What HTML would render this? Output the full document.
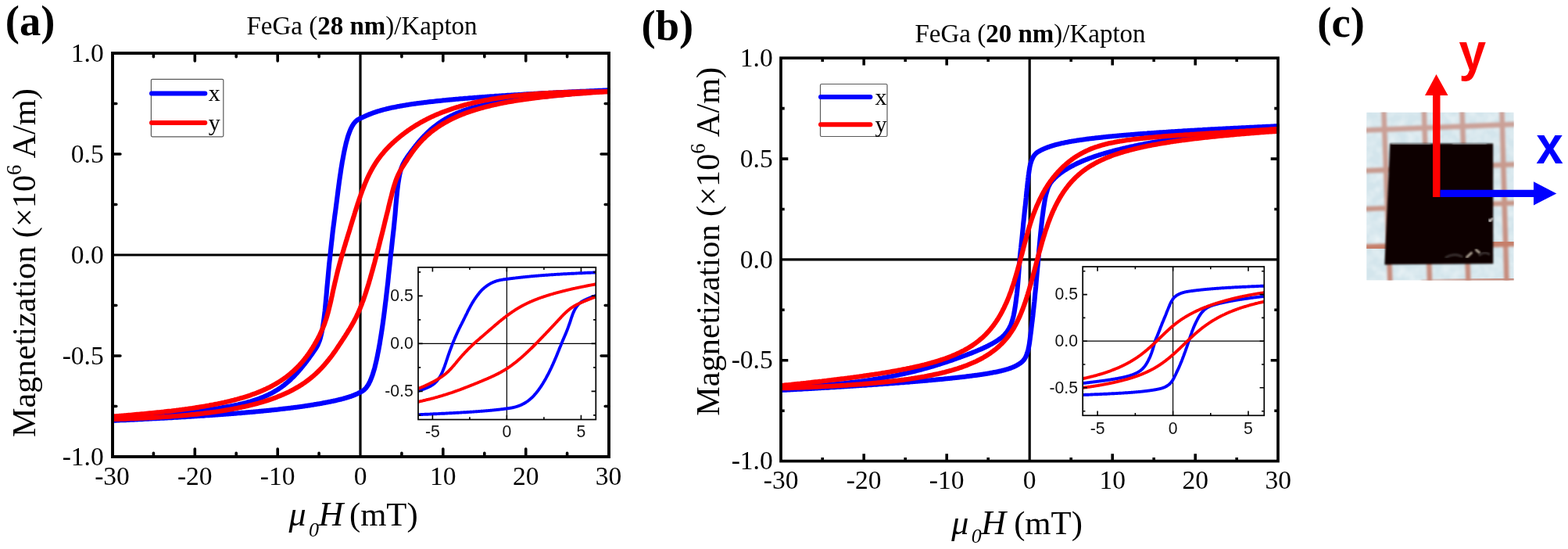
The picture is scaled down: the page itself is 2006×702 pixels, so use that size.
<!DOCTYPE html>
<html lang="en">
<head>
<meta charset="utf-8">
<title>FeGa/Kapton hysteresis loops</title>
<style>
html,body{margin:0;padding:0;background:#fff;}
body{width:2006px;height:702px;overflow:hidden;}
svg{display:block;}
text{white-space:pre;}
</style>
</head>
<body>
<svg width="2006" height="702" viewBox="0 0 2006 702">
<rect width="2006" height="702" fill="#fff"/>
<g id="panel-a">
<clipPath id="clipa"><rect x="144" y="68" width="637" height="516"/></clipPath>
<path d="M144,326 H779 M461,68 V584" stroke="#000" stroke-width="3.2" fill="none"/>
<g clip-path="url(#clipa)" fill="none" stroke-linejoin="round" stroke-linecap="round" stroke-width="6.1">
<path d="M143.5,536.4 L145.7,536.2 L147.8,536.0 L150.0,535.8 L152.1,535.6 L154.2,535.4 L156.4,535.2 L158.5,535.0 L160.6,534.8 L162.7,534.5 L164.8,534.3 L166.9,534.1 L169.0,533.9 L171.1,533.7 L173.2,533.5 L175.3,533.3 L177.3,533.1 L179.4,532.9 L181.4,532.7 L183.5,532.5 L185.5,532.3 L187.6,532.2 L189.6,532.0 L191.6,531.8 L193.7,531.6 L195.7,531.4 L197.7,531.2 L199.7,531.0 L201.7,530.8 L203.7,530.6 L205.6,530.4 L207.6,530.2 L209.6,530.0 L211.5,529.8 L213.5,529.7 L215.4,529.5 L217.4,529.3 L219.3,529.1 L221.3,528.9 L223.2,528.7 L225.1,528.5 L227.0,528.3 L228.9,528.1 L230.8,527.9 L232.7,527.7 L234.6,527.5 L236.5,527.3 L238.3,527.1 L240.2,526.9 L242.1,526.7 L243.9,526.5 L245.8,526.3 L247.6,526.1 L249.4,525.9 L251.3,525.7 L253.1,525.5 L254.9,525.3 L256.7,525.1 L258.5,524.8 L260.3,524.6 L262.1,524.4 L263.9,524.2 L265.6,523.9 L267.4,523.7 L269.2,523.5 L270.9,523.2 L272.7,523.0 L274.4,522.7 L276.2,522.5 L277.9,522.2 L279.6,522.0 L281.3,521.7 L283.0,521.4 L284.7,521.1 L286.4,520.9 L288.1,520.6 L289.8,520.3 L291.5,520.0 L293.1,519.7 L294.8,519.4 L296.4,519.1 L298.1,518.7 L299.7,518.4 L301.4,518.1 L303.0,517.7 L304.6,517.4 L306.2,517.0 L307.8,516.6 L309.4,516.3 L311.0,515.9 L312.6,515.5 L314.2,515.1 L315.8,514.7 L317.3,514.2 L318.9,513.8 L320.4,513.4 L322.0,512.9 L323.5,512.4 L325.0,511.9 L326.6,511.4 L328.1,510.9 L329.6,510.4 L331.1,509.9 L332.6,509.3 L334.1,508.7 L335.5,508.2 L337.0,507.6 L338.5,506.9 L339.9,506.3 L341.4,505.7 L342.8,505.0 L344.3,504.3 L345.7,503.6 L347.1,502.9 L348.5,502.1 L349.9,501.3 L351.3,500.5 L352.7,499.7 L354.1,498.9 L355.5,498.0 L356.9,497.1 L358.2,496.2 L359.6,495.3 L360.9,494.3 L362.3,493.3 L363.6,492.3 L364.9,491.2 L366.3,490.1 L367.6,489.0 L368.9,487.9 L370.2,486.7 L371.5,485.6 L372.7,484.3 L374.0,483.1 L375.3,481.9 L376.5,480.6 L377.8,479.3 L379.0,478.0 L380.3,476.6 L381.5,475.2 L382.7,473.9 L383.9,472.4 L385.1,471.0 L386.3,469.6 L387.5,468.1 L388.7,466.6 L389.9,465.2 L391.0,463.7 L392.2,462.1 L393.3,460.6 L394.5,459.1 L395.6,457.6 L396.7,456.0 L397.8,454.5 L399.0,452.9 L400.1,451.3 L401.1,449.8 L402.2,448.2 L403.3,446.7 L404.4,445.0 L405.4,443.2 L406.5,441.2 L407.5,438.9 L408.6,436.2 L409.6,433.1 L410.6,429.3 L411.6,425.0 L412.6,419.8 L413.6,413.6 L414.6,406.5 L415.6,398.1 L416.5,388.5 L417.5,378.0 L418.4,367.3 L419.4,356.7 L420.3,346.7 L421.2,337.2 L422.2,328.1 L423.1,319.5 L424.0,311.4 L424.9,303.6 L425.7,296.2 L426.6,289.2 L427.5,282.4 L428.3,275.9 L429.2,269.6 L430.0,263.3 L430.8,257.1 L431.6,250.8 L432.4,244.5 L433.2,238.4 L434.0,232.4 L434.8,226.8 L435.6,221.5 L436.3,216.5 L437.1,211.7 L437.8,207.3 L438.6,203.1 L439.3,199.2 L440.0,195.5 L440.7,192.1 L441.4,188.9 L442.1,185.9 L442.7,183.1 L443.4,180.5 L444.1,178.1 L444.7,175.9 L445.3,173.8 L446.0,171.9 L446.6,170.2 L447.2,168.6 L447.8,167.1 L448.3,165.8 L448.9,164.5 L449.5,163.4 L450.0,162.3 L450.5,161.3 L451.1,160.4 L451.6,159.5 L452.1,158.8 L452.6,158.1 L453.1,157.4 L453.5,156.8 L454.0,156.3 L454.4,155.8 L454.9,155.4 L455.3,155.0 L455.7,154.6 L456.1,154.3 L456.5,154.0 L456.8,153.7 L457.2,153.4 L457.5,153.2 L457.9,153.0 L458.2,152.8 L458.5,152.6 L458.8,152.5 L459.0,152.3 L459.3,152.2 L459.5,152.1 L459.8,151.9 L460.0,151.8 L460.2,151.7 L460.4,151.7 L460.5,151.6 L460.7,151.5 L460.8,151.5 L460.9,151.4 L460.9,151.4 L461.0,151.4 L461.0,151.3 L461.1,151.3 L461.1,151.3 L461.2,151.2 L461.3,151.2 L461.5,151.1 L461.6,151.0 L461.8,151.0 L462.0,150.9 L462.2,150.8 L462.5,150.7 L462.7,150.5 L463.0,150.4 L463.2,150.3 L463.5,150.2 L463.8,150.0 L464.1,149.9 L464.5,149.7 L464.8,149.6 L465.2,149.4 L465.5,149.2 L465.9,149.1 L466.3,148.9 L466.7,148.7 L467.1,148.5 L467.6,148.3 L468.0,148.1 L468.5,147.9 L468.9,147.7 L469.4,147.5 L469.9,147.3 L470.4,147.1 L470.9,146.9 L471.5,146.6 L472.0,146.4 L472.5,146.2 L473.1,146.0 L473.7,145.8 L474.2,145.5 L474.8,145.3 L475.4,145.1 L476.0,144.9 L476.7,144.6 L477.3,144.4 L477.9,144.2 L478.6,143.9 L479.3,143.7 L479.9,143.5 L480.6,143.2 L481.3,143.0 L482.0,142.8 L482.7,142.6 L483.4,142.3 L484.2,142.1 L484.9,141.9 L485.7,141.7 L486.4,141.4 L487.2,141.2 L488.0,141.0 L488.8,140.8 L489.6,140.6 L490.4,140.3 L491.2,140.1 L492.0,139.9 L492.8,139.7 L493.7,139.5 L494.5,139.3 L495.4,139.1 L496.3,138.9 L497.1,138.6 L498.0,138.4 L498.9,138.2 L499.8,138.0 L500.8,137.8 L501.7,137.6 L502.6,137.4 L503.6,137.2 L504.5,137.1 L505.5,136.9 L506.4,136.7 L507.4,136.5 L508.4,136.3 L509.4,136.1 L510.4,135.9 L511.4,135.7 L512.4,135.5 L513.4,135.4 L514.5,135.2 L515.5,135.0 L516.6,134.8 L517.6,134.7 L518.7,134.5 L519.8,134.3 L520.9,134.1 L521.9,134.0 L523.0,133.8 L524.2,133.6 L525.3,133.4 L526.4,133.3 L527.5,133.1 L528.7,132.9 L529.8,132.8 L531.0,132.6 L532.1,132.5 L533.3,132.3 L534.5,132.1 L535.7,132.0 L536.9,131.8 L538.1,131.7 L539.3,131.5 L540.5,131.4 L541.7,131.2 L543.0,131.0 L544.2,130.9 L545.5,130.7 L546.7,130.6 L548.0,130.4 L549.3,130.3 L550.5,130.1 L551.8,130.0 L553.1,129.9 L554.4,129.7 L555.7,129.6 L557.1,129.4 L558.4,129.3 L559.7,129.1 L561.1,129.0 L562.4,128.9 L563.8,128.7 L565.1,128.6 L566.5,128.4 L567.9,128.3 L569.3,128.2 L570.7,128.0 L572.1,127.9 L573.5,127.8 L574.9,127.6 L576.3,127.5 L577.7,127.4 L579.2,127.2 L580.6,127.1 L582.1,127.0 L583.5,126.8 L585.0,126.7 L586.5,126.6 L587.9,126.4 L589.4,126.3 L590.9,126.2 L592.4,126.1 L593.9,125.9 L595.4,125.8 L597.0,125.7 L598.5,125.6 L600.0,125.4 L601.6,125.3 L603.1,125.2 L604.7,125.1 L606.2,124.9 L607.8,124.8 L609.4,124.7 L611.0,124.6 L612.6,124.5 L614.2,124.3 L615.8,124.2 L617.4,124.1 L619.0,124.0 L620.6,123.9 L622.3,123.7 L623.9,123.6 L625.6,123.5 L627.2,123.4 L628.9,123.3 L630.5,123.2 L632.2,123.1 L633.9,122.9 L635.6,122.8 L637.3,122.7 L639.0,122.6 L640.7,122.5 L642.4,122.4 L644.1,122.3 L645.8,122.2 L647.6,122.0 L649.3,121.9 L651.1,121.8 L652.8,121.7 L654.6,121.6 L656.4,121.5 L658.1,121.4 L659.9,121.3 L661.7,121.2 L663.5,121.1 L665.3,121.0 L667.1,120.9 L668.9,120.7 L670.7,120.6 L672.6,120.5 L674.4,120.4 L676.2,120.3 L678.1,120.2 L679.9,120.1 L681.8,120.0 L683.7,119.9 L685.5,119.8 L687.4,119.7 L689.3,119.6 L691.2,119.5 L693.1,119.4 L695.0,119.3 L696.9,119.2 L698.8,119.1 L700.7,119.0 L702.7,118.9 L704.6,118.8 L706.6,118.7 L708.5,118.6 L710.5,118.5 L712.4,118.4 L714.4,118.3 L716.4,118.2 L718.3,118.1 L720.3,118.0 L722.3,117.9 L724.3,117.8 L726.3,117.7 L728.3,117.6 L730.4,117.5 L732.4,117.4 L734.4,117.3 L736.5,117.2 L738.5,117.1 L740.6,117.0 L742.6,116.9 L744.7,116.8 L746.7,116.8 L748.8,116.7 L750.9,116.6 L753.0,116.5 L755.1,116.4 L757.2,116.3 L759.3,116.2 L761.4,116.1 L763.5,116.0 L765.6,115.9 L767.8,115.8 L769.9,115.7 L772.0,115.6 L774.2,115.5 L776.3,115.5 L778.5,115.4" stroke="#0000ff"/>
<path d="M143.5,537.8 L145.7,537.7 L147.8,537.6 L150.0,537.5 L152.1,537.4 L154.2,537.3 L156.4,537.2 L158.5,537.1 L160.6,537.1 L162.7,537.0 L164.8,536.9 L166.9,536.8 L169.0,536.7 L171.1,536.6 L173.2,536.5 L175.3,536.4 L177.3,536.3 L179.4,536.2 L181.4,536.1 L183.5,535.9 L185.5,535.8 L187.6,535.7 L189.6,535.6 L191.6,535.5 L193.7,535.4 L195.7,535.3 L197.7,535.2 L199.7,535.1 L201.7,535.0 L203.7,534.9 L205.6,534.8 L207.6,534.7 L209.6,534.6 L211.5,534.5 L213.5,534.4 L215.4,534.3 L217.4,534.2 L219.3,534.1 L221.3,533.9 L223.2,533.8 L225.1,533.7 L227.0,533.6 L228.9,533.5 L230.8,533.4 L232.7,533.3 L234.6,533.2 L236.5,533.1 L238.3,532.9 L240.2,532.8 L242.1,532.7 L243.9,532.6 L245.8,532.5 L247.6,532.4 L249.4,532.3 L251.3,532.1 L253.1,532.0 L254.9,531.9 L256.7,531.8 L258.5,531.7 L260.3,531.6 L262.1,531.4 L263.9,531.3 L265.6,531.2 L267.4,531.1 L269.2,531.0 L270.9,530.9 L272.7,530.7 L274.4,530.6 L276.2,530.5 L277.9,530.4 L279.6,530.2 L281.3,530.1 L283.0,530.0 L284.7,529.9 L286.4,529.7 L288.1,529.6 L289.8,529.5 L291.5,529.4 L293.1,529.2 L294.8,529.1 L296.4,529.0 L298.1,528.9 L299.7,528.7 L301.4,528.6 L303.0,528.5 L304.6,528.3 L306.2,528.2 L307.8,528.1 L309.4,527.9 L311.0,527.8 L312.6,527.7 L314.2,527.5 L315.8,527.4 L317.3,527.3 L318.9,527.1 L320.4,527.0 L322.0,526.9 L323.5,526.7 L325.0,526.6 L326.6,526.5 L328.1,526.3 L329.6,526.2 L331.1,526.0 L332.6,525.9 L334.1,525.8 L335.5,525.6 L337.0,525.5 L338.5,525.3 L339.9,525.2 L341.4,525.0 L342.8,524.9 L344.3,524.7 L345.7,524.6 L347.1,524.5 L348.5,524.3 L349.9,524.2 L351.3,524.0 L352.7,523.9 L354.1,523.7 L355.5,523.6 L356.9,523.4 L358.2,523.3 L359.6,523.1 L360.9,522.9 L362.3,522.8 L363.6,522.6 L364.9,522.5 L366.3,522.3 L367.6,522.2 L368.9,522.0 L370.2,521.9 L371.5,521.7 L372.7,521.5 L374.0,521.4 L375.3,521.2 L376.5,521.0 L377.8,520.9 L379.0,520.7 L380.3,520.6 L381.5,520.4 L382.7,520.2 L383.9,520.1 L385.1,519.9 L386.3,519.7 L387.5,519.6 L388.7,519.4 L389.9,519.2 L391.0,519.0 L392.2,518.9 L393.3,518.7 L394.5,518.5 L395.6,518.4 L396.7,518.2 L397.8,518.0 L399.0,517.8 L400.1,517.7 L401.1,517.5 L402.2,517.3 L403.3,517.1 L404.4,517.0 L405.4,516.8 L406.5,516.6 L407.5,516.4 L408.6,516.2 L409.6,516.1 L410.6,515.9 L411.6,515.7 L412.6,515.5 L413.6,515.3 L414.6,515.1 L415.6,515.0 L416.5,514.8 L417.5,514.6 L418.4,514.4 L419.4,514.2 L420.3,514.0 L421.2,513.8 L422.2,513.7 L423.1,513.5 L424.0,513.3 L424.9,513.1 L425.7,512.9 L426.6,512.7 L427.5,512.5 L428.3,512.4 L429.2,512.2 L430.0,512.0 L430.8,511.8 L431.6,511.6 L432.4,511.4 L433.2,511.2 L434.0,511.0 L434.8,510.8 L435.6,510.7 L436.3,510.5 L437.1,510.3 L437.8,510.1 L438.6,509.9 L439.3,509.7 L440.0,509.5 L440.7,509.3 L441.4,509.1 L442.1,508.9 L442.7,508.7 L443.4,508.5 L444.1,508.3 L444.7,508.1 L445.3,507.9 L446.0,507.7 L446.6,507.5 L447.2,507.3 L447.8,507.1 L448.3,507.0 L448.9,506.8 L449.5,506.6 L450.0,506.4 L450.5,506.2 L451.1,506.0 L451.6,505.8 L452.1,505.6 L452.6,505.4 L453.1,505.2 L453.5,505.0 L454.0,504.8 L454.4,504.6 L454.9,504.5 L455.3,504.3 L455.7,504.1 L456.1,503.9 L456.5,503.7 L456.8,503.6 L457.2,503.4 L457.5,503.3 L457.9,503.1 L458.2,503.0 L458.5,502.8 L458.8,502.7 L459.0,502.5 L459.3,502.4 L459.5,502.3 L459.8,502.2 L460.0,502.1 L460.2,502.0 L460.4,501.9 L460.5,501.8 L460.7,501.7 L460.8,501.7 L460.9,501.6 L460.9,501.6 L461.0,501.6 L461.0,501.6 L461.1,501.5 L461.1,501.5 L461.2,501.4 L461.3,501.4 L461.5,501.3 L461.6,501.2 L461.8,501.1 L462.0,501.0 L462.2,500.9 L462.5,500.8 L462.7,500.7 L463.0,500.5 L463.2,500.3 L463.5,500.2 L463.8,500.0 L464.1,499.8 L464.5,499.5 L464.8,499.3 L465.2,499.0 L465.5,498.7 L465.9,498.4 L466.3,498.0 L466.7,497.7 L467.1,497.2 L467.6,496.8 L468.0,496.3 L468.5,495.7 L468.9,495.1 L469.4,494.5 L469.9,493.8 L470.4,493.0 L470.9,492.2 L471.5,491.3 L472.0,490.3 L472.5,489.2 L473.1,488.1 L473.7,486.9 L474.2,485.6 L474.8,484.2 L475.4,482.6 L476.0,481.0 L476.7,479.2 L477.3,477.2 L477.9,475.2 L478.6,472.9 L479.3,470.5 L479.9,467.9 L480.6,465.1 L481.3,462.1 L482.0,459.0 L482.7,455.6 L483.4,452.0 L484.2,448.2 L484.9,444.1 L485.7,439.9 L486.4,435.4 L487.2,430.6 L488.0,425.6 L488.8,420.3 L489.6,414.8 L490.4,409.0 L491.2,402.9 L492.0,396.6 L492.8,389.9 L493.7,383.0 L494.5,375.8 L495.4,368.2 L496.3,360.4 L497.1,352.2 L498.0,343.9 L498.9,335.4 L499.8,326.9 L500.8,318.5 L501.7,310.2 L502.6,302.0 L503.6,293.4 L504.5,284.3 L505.5,274.2 L506.4,263.1 L507.4,252.1 L508.4,242.2 L509.4,234.2 L510.4,227.9 L511.4,222.7 L512.4,218.5 L513.4,215.1 L514.5,212.4 L515.5,210.0 L516.6,208.0 L517.6,206.1 L518.7,204.3 L519.8,202.7 L520.9,201.0 L521.9,199.5 L523.0,197.9 L524.2,196.4 L525.3,194.9 L526.4,193.4 L527.5,191.9 L528.7,190.4 L529.8,188.9 L531.0,187.4 L532.1,185.9 L533.3,184.5 L534.5,183.0 L535.7,181.6 L536.9,180.2 L538.1,178.8 L539.3,177.4 L540.5,176.1 L541.7,174.8 L543.0,173.5 L544.2,172.2 L545.5,171.0 L546.7,169.7 L548.0,168.5 L549.3,167.4 L550.5,166.2 L551.8,165.1 L553.1,164.0 L554.4,162.9 L555.7,161.9 L557.1,160.8 L558.4,159.8 L559.7,158.8 L561.1,157.9 L562.4,156.9 L563.8,156.0 L565.1,155.1 L566.5,154.2 L567.9,153.4 L569.3,152.5 L570.7,151.7 L572.1,150.9 L573.5,150.1 L574.9,149.4 L576.3,148.6 L577.7,147.9 L579.2,147.2 L580.6,146.5 L582.1,145.9 L583.5,145.2 L585.0,144.6 L586.5,144.0 L587.9,143.4 L589.4,142.8 L590.9,142.3 L592.4,141.7 L593.9,141.2 L595.4,140.6 L597.0,140.1 L598.5,139.6 L600.0,139.2 L601.6,138.7 L603.1,138.2 L604.7,137.8 L606.2,137.4 L607.8,136.9 L609.4,136.5 L611.0,136.1 L612.6,135.7 L614.2,135.4 L615.8,135.0 L617.4,134.6 L619.0,134.3 L620.6,133.9 L622.3,133.6 L623.9,133.2 L625.6,132.9 L627.2,132.6 L628.9,132.3 L630.5,132.0 L632.2,131.7 L633.9,131.4 L635.6,131.1 L637.3,130.8 L639.0,130.5 L640.7,130.3 L642.4,130.0 L644.1,129.7 L645.8,129.5 L647.6,129.2 L649.3,129.0 L651.1,128.7 L652.8,128.5 L654.6,128.2 L656.4,128.0 L658.1,127.8 L659.9,127.6 L661.7,127.3 L663.5,127.1 L665.3,126.9 L667.1,126.7 L668.9,126.5 L670.7,126.2 L672.6,126.0 L674.4,125.8 L676.2,125.6 L678.1,125.4 L679.9,125.2 L681.8,125.0 L683.7,124.8 L685.5,124.6 L687.4,124.4 L689.3,124.2 L691.2,124.0 L693.1,123.8 L695.0,123.6 L696.9,123.4 L698.8,123.3 L700.7,123.1 L702.7,122.9 L704.6,122.7 L706.6,122.5 L708.5,122.3 L710.5,122.1 L712.4,121.9 L714.4,121.7 L716.4,121.5 L718.3,121.4 L720.3,121.2 L722.3,121.0 L724.3,120.8 L726.3,120.6 L728.3,120.4 L730.4,120.2 L732.4,120.0 L734.4,119.8 L736.5,119.6 L738.5,119.4 L740.6,119.3 L742.6,119.1 L744.7,118.9 L746.7,118.7 L748.8,118.5 L750.9,118.3 L753.0,118.1 L755.1,117.9 L757.2,117.7 L759.3,117.5 L761.4,117.3 L763.5,117.1 L765.6,116.9 L767.8,116.6 L769.9,116.4 L772.0,116.2 L774.2,116.0 L776.3,115.8 L778.5,115.6" stroke="#0000ff"/>
<path d="M143.5,532.5 L145.7,532.4 L147.8,532.2 L150.0,532.0 L152.1,531.9 L154.2,531.7 L156.4,531.5 L158.5,531.4 L160.6,531.2 L162.7,531.0 L164.8,530.8 L166.9,530.7 L169.0,530.5 L171.1,530.3 L173.2,530.1 L175.3,529.9 L177.3,529.8 L179.4,529.6 L181.4,529.4 L183.5,529.2 L185.5,529.0 L187.6,528.8 L189.6,528.6 L191.6,528.4 L193.7,528.2 L195.7,528.0 L197.7,527.8 L199.7,527.6 L201.7,527.4 L203.7,527.2 L205.6,527.0 L207.6,526.8 L209.6,526.6 L211.5,526.3 L213.5,526.1 L215.4,525.9 L217.4,525.7 L219.3,525.5 L221.3,525.2 L223.2,525.0 L225.1,524.8 L227.0,524.5 L228.9,524.3 L230.8,524.0 L232.7,523.8 L234.6,523.5 L236.5,523.3 L238.3,523.0 L240.2,522.8 L242.1,522.5 L243.9,522.2 L245.8,522.0 L247.6,521.7 L249.4,521.4 L251.3,521.1 L253.1,520.9 L254.9,520.6 L256.7,520.3 L258.5,520.0 L260.3,519.7 L262.1,519.4 L263.9,519.1 L265.6,518.8 L267.4,518.5 L269.2,518.1 L270.9,517.8 L272.7,517.5 L274.4,517.1 L276.2,516.8 L277.9,516.5 L279.6,516.1 L281.3,515.8 L283.0,515.4 L284.7,515.0 L286.4,514.7 L288.1,514.3 L289.8,513.9 L291.5,513.5 L293.1,513.1 L294.8,512.7 L296.4,512.3 L298.1,511.9 L299.7,511.5 L301.4,511.0 L303.0,510.6 L304.6,510.1 L306.2,509.7 L307.8,509.2 L309.4,508.8 L311.0,508.3 L312.6,507.8 L314.2,507.3 L315.8,506.8 L317.3,506.3 L318.9,505.8 L320.4,505.3 L322.0,504.7 L323.5,504.2 L325.0,503.6 L326.6,503.1 L328.1,502.5 L329.6,501.9 L331.1,501.3 L332.6,500.7 L334.1,500.1 L335.5,499.4 L337.0,498.8 L338.5,498.1 L339.9,497.5 L341.4,496.8 L342.8,496.1 L344.3,495.4 L345.7,494.7 L347.1,493.9 L348.5,493.2 L349.9,492.4 L351.3,491.6 L352.7,490.8 L354.1,490.0 L355.5,489.2 L356.9,488.3 L358.2,487.5 L359.6,486.6 L360.9,485.7 L362.3,484.8 L363.6,483.8 L364.9,482.9 L366.3,481.9 L367.6,480.9 L368.9,479.9 L370.2,478.9 L371.5,477.8 L372.7,476.7 L374.0,475.6 L375.3,474.5 L376.5,473.3 L377.8,472.2 L379.0,470.9 L380.3,469.7 L381.5,468.5 L382.7,467.2 L383.9,465.9 L385.1,464.5 L386.3,463.2 L387.5,461.8 L388.7,460.3 L389.9,458.9 L391.0,457.4 L392.2,455.9 L393.3,454.4 L394.5,452.8 L395.6,451.2 L396.7,449.5 L397.8,447.8 L399.0,446.1 L400.1,444.4 L401.1,442.6 L402.2,440.8 L403.3,438.9 L404.4,437.0 L405.4,435.1 L406.5,433.1 L407.5,431.1 L408.6,429.1 L409.6,427.0 L410.6,424.8 L411.6,422.6 L412.6,420.4 L413.6,418.0 L414.6,415.5 L415.6,412.9 L416.5,410.1 L417.5,407.2 L418.4,404.1 L419.4,400.7 L420.3,397.2 L421.2,393.5 L422.2,389.6 L423.1,385.7 L424.0,381.6 L424.9,377.6 L425.7,373.6 L426.6,369.6 L427.5,365.8 L428.3,362.1 L429.2,358.5 L430.0,355.0 L430.8,351.6 L431.6,348.3 L432.4,345.1 L433.2,342.0 L434.0,339.0 L434.8,336.1 L435.6,333.2 L436.3,330.5 L437.1,327.8 L437.8,325.2 L438.6,322.7 L439.3,320.3 L440.0,317.9 L440.7,315.5 L441.4,313.3 L442.1,311.0 L442.7,308.8 L443.4,306.7 L444.1,304.5 L444.7,302.4 L445.3,300.4 L446.0,298.3 L446.6,296.3 L447.2,294.4 L447.8,292.4 L448.3,290.5 L448.9,288.6 L449.5,286.8 L450.0,285.0 L450.5,283.3 L451.1,281.5 L451.6,279.9 L452.1,278.2 L452.6,276.6 L453.1,275.1 L453.5,273.6 L454.0,272.1 L454.4,270.7 L454.9,269.3 L455.3,268.0 L455.7,266.7 L456.1,265.5 L456.5,264.3 L456.8,263.1 L457.2,262.0 L457.5,261.0 L457.9,260.0 L458.2,259.0 L458.5,258.1 L458.8,257.2 L459.0,256.4 L459.3,255.7 L459.5,254.9 L459.8,254.3 L460.0,253.6 L460.2,253.1 L460.4,252.6 L460.5,252.1 L460.7,251.7 L460.8,251.4 L460.9,251.1 L460.9,250.9 L461.0,250.7 L461.0,250.7 L461.1,250.6 L461.1,250.3 L461.2,250.1 L461.3,249.7 L461.5,249.3 L461.6,248.9 L461.8,248.4 L462.0,247.8 L462.2,247.3 L462.5,246.6 L462.7,246.0 L463.0,245.2 L463.2,244.5 L463.5,243.7 L463.8,242.9 L464.1,242.1 L464.5,241.2 L464.8,240.3 L465.2,239.4 L465.5,238.5 L465.9,237.5 L466.3,236.5 L466.7,235.5 L467.1,234.5 L467.6,233.5 L468.0,232.4 L468.5,231.4 L468.9,230.3 L469.4,229.2 L469.9,228.1 L470.4,227.0 L470.9,225.9 L471.5,224.8 L472.0,223.7 L472.5,222.6 L473.1,221.5 L473.7,220.4 L474.2,219.3 L474.8,218.2 L475.4,217.1 L476.0,216.0 L476.7,214.9 L477.3,213.8 L477.9,212.7 L478.6,211.6 L479.3,210.5 L479.9,209.5 L480.6,208.4 L481.3,207.3 L482.0,206.3 L482.7,205.3 L483.4,204.2 L484.2,203.2 L484.9,202.2 L485.7,201.2 L486.4,200.2 L487.2,199.2 L488.0,198.2 L488.8,197.2 L489.6,196.3 L490.4,195.3 L491.2,194.3 L492.0,193.4 L492.8,192.4 L493.7,191.5 L494.5,190.6 L495.4,189.7 L496.3,188.8 L497.1,187.9 L498.0,187.0 L498.9,186.1 L499.8,185.2 L500.8,184.3 L501.7,183.4 L502.6,182.6 L503.6,181.7 L504.5,180.8 L505.5,180.0 L506.4,179.1 L507.4,178.3 L508.4,177.4 L509.4,176.6 L510.4,175.8 L511.4,174.9 L512.4,174.1 L513.4,173.3 L514.5,172.5 L515.5,171.7 L516.6,170.9 L517.6,170.1 L518.7,169.3 L519.8,168.5 L520.9,167.7 L521.9,166.9 L523.0,166.2 L524.2,165.4 L525.3,164.6 L526.4,163.9 L527.5,163.1 L528.7,162.4 L529.8,161.7 L531.0,160.9 L532.1,160.2 L533.3,159.5 L534.5,158.8 L535.7,158.1 L536.9,157.4 L538.1,156.7 L539.3,156.0 L540.5,155.4 L541.7,154.7 L543.0,154.0 L544.2,153.4 L545.5,152.7 L546.7,152.1 L548.0,151.5 L549.3,150.8 L550.5,150.2 L551.8,149.6 L553.1,149.0 L554.4,148.4 L555.7,147.8 L557.1,147.2 L558.4,146.7 L559.7,146.1 L561.1,145.5 L562.4,145.0 L563.8,144.4 L565.1,143.9 L566.5,143.3 L567.9,142.8 L569.3,142.3 L570.7,141.8 L572.1,141.3 L573.5,140.8 L574.9,140.3 L576.3,139.8 L577.7,139.3 L579.2,138.8 L580.6,138.4 L582.1,137.9 L583.5,137.5 L585.0,137.0 L586.5,136.6 L587.9,136.1 L589.4,135.7 L590.9,135.3 L592.4,134.8 L593.9,134.4 L595.4,134.0 L597.0,133.6 L598.5,133.2 L600.0,132.8 L601.6,132.5 L603.1,132.1 L604.7,131.7 L606.2,131.3 L607.8,131.0 L609.4,130.6 L611.0,130.3 L612.6,129.9 L614.2,129.6 L615.8,129.3 L617.4,128.9 L619.0,128.6 L620.6,128.3 L622.3,128.0 L623.9,127.7 L625.6,127.4 L627.2,127.1 L628.9,126.8 L630.5,126.5 L632.2,126.2 L633.9,126.0 L635.6,125.7 L637.3,125.4 L639.0,125.2 L640.7,124.9 L642.4,124.7 L644.1,124.4 L645.8,124.2 L647.6,124.0 L649.3,123.7 L651.1,123.5 L652.8,123.3 L654.6,123.1 L656.4,122.8 L658.1,122.6 L659.9,122.4 L661.7,122.2 L663.5,122.0 L665.3,121.9 L667.1,121.7 L668.9,121.5 L670.7,121.3 L672.6,121.1 L674.4,121.0 L676.2,120.8 L678.1,120.6 L679.9,120.5 L681.8,120.3 L683.7,120.2 L685.5,120.0 L687.4,119.9 L689.3,119.8 L691.2,119.6 L693.1,119.5 L695.0,119.4 L696.9,119.3 L698.8,119.1 L700.7,119.0 L702.7,118.9 L704.6,118.8 L706.6,118.7 L708.5,118.6 L710.5,118.5 L712.4,118.4 L714.4,118.3 L716.4,118.3 L718.3,118.2 L720.3,118.1 L722.3,118.0 L724.3,118.0 L726.3,117.9 L728.3,117.8 L730.4,117.8 L732.4,117.7 L734.4,117.7 L736.5,117.6 L738.5,117.6 L740.6,117.5 L742.6,117.5 L744.7,117.4 L746.7,117.4 L748.8,117.4 L750.9,117.3 L753.0,117.3 L755.1,117.3 L757.2,117.3 L759.3,117.3 L761.4,117.2 L763.5,117.2 L765.6,117.2 L767.8,117.2 L769.9,117.2 L772.0,117.2 L774.2,117.2 L776.3,117.2 L778.5,117.2" stroke="#ff0000"/>
<path d="M143.5,536.1 L145.7,536.1 L147.8,536.0 L150.0,535.9 L152.1,535.9 L154.2,535.8 L156.4,535.7 L158.5,535.6 L160.6,535.6 L162.7,535.5 L164.8,535.4 L166.9,535.3 L169.0,535.3 L171.1,535.2 L173.2,535.1 L175.3,535.0 L177.3,534.9 L179.4,534.8 L181.4,534.7 L183.5,534.6 L185.5,534.5 L187.6,534.4 L189.6,534.3 L191.6,534.2 L193.7,534.1 L195.7,534.0 L197.7,533.9 L199.7,533.8 L201.7,533.6 L203.7,533.5 L205.6,533.4 L207.6,533.3 L209.6,533.1 L211.5,533.0 L213.5,532.9 L215.4,532.7 L217.4,532.6 L219.3,532.5 L221.3,532.3 L223.2,532.2 L225.1,532.0 L227.0,531.9 L228.9,531.7 L230.8,531.5 L232.7,531.4 L234.6,531.2 L236.5,531.0 L238.3,530.9 L240.2,530.7 L242.1,530.5 L243.9,530.3 L245.8,530.1 L247.6,530.0 L249.4,529.8 L251.3,529.6 L253.1,529.4 L254.9,529.2 L256.7,529.0 L258.5,528.8 L260.3,528.6 L262.1,528.3 L263.9,528.1 L265.6,527.9 L267.4,527.7 L269.2,527.4 L270.9,527.2 L272.7,527.0 L274.4,526.7 L276.2,526.5 L277.9,526.2 L279.6,526.0 L281.3,525.7 L283.0,525.5 L284.7,525.2 L286.4,524.9 L288.1,524.6 L289.8,524.4 L291.5,524.1 L293.1,523.8 L294.8,523.5 L296.4,523.2 L298.1,522.9 L299.7,522.6 L301.4,522.3 L303.0,522.0 L304.6,521.6 L306.2,521.3 L307.8,521.0 L309.4,520.6 L311.0,520.3 L312.6,520.0 L314.2,519.6 L315.8,519.2 L317.3,518.9 L318.9,518.5 L320.4,518.1 L322.0,517.8 L323.5,517.4 L325.0,517.0 L326.6,516.6 L328.1,516.2 L329.6,515.8 L331.1,515.4 L332.6,514.9 L334.1,514.5 L335.5,514.1 L337.0,513.6 L338.5,513.2 L339.9,512.7 L341.4,512.3 L342.8,511.8 L344.3,511.3 L345.7,510.8 L347.1,510.3 L348.5,509.8 L349.9,509.3 L351.3,508.8 L352.7,508.3 L354.1,507.8 L355.5,507.2 L356.9,506.7 L358.2,506.1 L359.6,505.6 L360.9,505.0 L362.3,504.4 L363.6,503.8 L364.9,503.2 L366.3,502.6 L367.6,502.0 L368.9,501.4 L370.2,500.8 L371.5,500.1 L372.7,499.5 L374.0,498.8 L375.3,498.1 L376.5,497.4 L377.8,496.7 L379.0,496.0 L380.3,495.3 L381.5,494.6 L382.7,493.9 L383.9,493.1 L385.1,492.4 L386.3,491.6 L387.5,490.8 L388.7,490.0 L389.9,489.2 L391.0,488.4 L392.2,487.5 L393.3,486.7 L394.5,485.8 L395.6,485.0 L396.7,484.1 L397.8,483.2 L399.0,482.3 L400.1,481.3 L401.1,480.4 L402.2,479.4 L403.3,478.5 L404.4,477.5 L405.4,476.5 L406.5,475.5 L407.5,474.5 L408.6,473.4 L409.6,472.4 L410.6,471.3 L411.6,470.3 L412.6,469.2 L413.6,468.1 L414.6,467.0 L415.6,465.9 L416.5,464.8 L417.5,463.6 L418.4,462.5 L419.4,461.3 L420.3,460.2 L421.2,459.0 L422.2,457.8 L423.1,456.7 L424.0,455.5 L424.9,454.3 L425.7,453.1 L426.6,451.9 L427.5,450.7 L428.3,449.5 L429.2,448.3 L430.0,447.1 L430.8,445.9 L431.6,444.7 L432.4,443.5 L433.2,442.3 L434.0,441.1 L434.8,439.9 L435.6,438.8 L436.3,437.6 L437.1,436.5 L437.8,435.3 L438.6,434.2 L439.3,433.1 L440.0,432.0 L440.7,430.9 L441.4,429.9 L442.1,428.8 L442.7,427.7 L443.4,426.7 L444.1,425.7 L444.7,424.6 L445.3,423.6 L446.0,422.6 L446.6,421.6 L447.2,420.7 L447.8,419.7 L448.3,418.7 L448.9,417.7 L449.5,416.8 L450.0,415.9 L450.5,414.9 L451.1,414.0 L451.6,413.1 L452.1,412.2 L452.6,411.3 L453.1,410.4 L453.5,409.5 L454.0,408.6 L454.4,407.8 L454.9,406.9 L455.3,406.1 L455.7,405.3 L456.1,404.5 L456.5,403.7 L456.8,402.9 L457.2,402.1 L457.5,401.4 L457.9,400.7 L458.2,400.0 L458.5,399.3 L458.8,398.7 L459.0,398.1 L459.3,397.5 L459.5,396.9 L459.8,396.4 L460.0,395.9 L460.2,395.4 L460.4,395.0 L460.5,394.6 L460.7,394.3 L460.8,394.0 L460.9,393.8 L460.9,393.6 L461.0,393.5 L461.0,393.4 L461.1,393.3 L461.1,393.1 L461.2,392.9 L461.3,392.6 L461.5,392.3 L461.6,391.9 L461.8,391.4 L462.0,390.9 L462.2,390.4 L462.5,389.8 L462.7,389.2 L463.0,388.5 L463.2,387.8 L463.5,387.0 L463.8,386.2 L464.1,385.4 L464.5,384.5 L464.8,383.5 L465.2,382.5 L465.5,381.5 L465.9,380.4 L466.3,379.3 L466.7,378.1 L467.1,376.8 L467.6,375.5 L468.0,374.2 L468.5,372.8 L468.9,371.3 L469.4,369.8 L469.9,368.2 L470.4,366.6 L470.9,364.9 L471.5,363.2 L472.0,361.4 L472.5,359.6 L473.1,357.7 L473.7,355.7 L474.2,353.7 L474.8,351.6 L475.4,349.5 L476.0,347.3 L476.7,345.0 L477.3,342.7 L477.9,340.4 L478.6,338.0 L479.3,335.5 L479.9,333.0 L480.6,330.4 L481.3,327.8 L482.0,325.1 L482.7,322.4 L483.4,319.6 L484.2,316.8 L484.9,313.9 L485.7,310.9 L486.4,307.9 L487.2,304.9 L488.0,301.8 L488.8,298.7 L489.6,295.5 L490.4,292.2 L491.2,289.0 L492.0,285.6 L492.8,282.3 L493.7,278.9 L494.5,275.4 L495.4,271.9 L496.3,268.4 L497.1,264.8 L498.0,261.2 L498.9,257.5 L499.8,253.9 L500.8,250.2 L501.7,246.6 L502.6,243.1 L503.6,239.7 L504.5,236.6 L505.5,233.6 L506.4,230.9 L507.4,228.2 L508.4,225.8 L509.4,223.5 L510.4,221.5 L511.4,219.5 L512.4,217.7 L513.4,215.9 L514.5,214.2 L515.5,212.6 L516.6,210.9 L517.6,209.3 L518.7,207.6 L519.8,206.0 L520.9,204.3 L521.9,202.6 L523.0,201.0 L524.2,199.3 L525.3,197.7 L526.4,196.1 L527.5,194.5 L528.7,192.9 L529.8,191.4 L531.0,189.9 L532.1,188.4 L533.3,187.0 L534.5,185.5 L535.7,184.2 L536.9,182.8 L538.1,181.5 L539.3,180.2 L540.5,178.9 L541.7,177.7 L543.0,176.5 L544.2,175.3 L545.5,174.1 L546.7,173.0 L548.0,171.9 L549.3,170.8 L550.5,169.7 L551.8,168.7 L553.1,167.7 L554.4,166.6 L555.7,165.7 L557.1,164.7 L558.4,163.8 L559.7,162.8 L561.1,161.9 L562.4,161.0 L563.8,160.2 L565.1,159.3 L566.5,158.5 L567.9,157.7 L569.3,156.9 L570.7,156.1 L572.1,155.3 L573.5,154.5 L574.9,153.8 L576.3,153.1 L577.7,152.3 L579.2,151.6 L580.6,151.0 L582.1,150.3 L583.5,149.6 L585.0,149.0 L586.5,148.3 L587.9,147.7 L589.4,147.1 L590.9,146.5 L592.4,145.9 L593.9,145.3 L595.4,144.7 L597.0,144.2 L598.5,143.6 L600.0,143.1 L601.6,142.6 L603.1,142.0 L604.7,141.5 L606.2,141.0 L607.8,140.5 L609.4,140.1 L611.0,139.6 L612.6,139.1 L614.2,138.7 L615.8,138.2 L617.4,137.8 L619.0,137.3 L620.6,136.9 L622.3,136.5 L623.9,136.1 L625.6,135.7 L627.2,135.3 L628.9,134.9 L630.5,134.5 L632.2,134.1 L633.9,133.7 L635.6,133.4 L637.3,133.0 L639.0,132.6 L640.7,132.3 L642.4,131.9 L644.1,131.6 L645.8,131.3 L647.6,130.9 L649.3,130.6 L651.1,130.3 L652.8,130.0 L654.6,129.7 L656.4,129.4 L658.1,129.1 L659.9,128.8 L661.7,128.5 L663.5,128.2 L665.3,127.9 L667.1,127.7 L668.9,127.4 L670.7,127.1 L672.6,126.9 L674.4,126.6 L676.2,126.4 L678.1,126.1 L679.9,125.9 L681.8,125.6 L683.7,125.4 L685.5,125.1 L687.4,124.9 L689.3,124.7 L691.2,124.4 L693.1,124.2 L695.0,124.0 L696.9,123.8 L698.8,123.6 L700.7,123.4 L702.7,123.1 L704.6,122.9 L706.6,122.7 L708.5,122.5 L710.5,122.3 L712.4,122.2 L714.4,122.0 L716.4,121.8 L718.3,121.6 L720.3,121.4 L722.3,121.2 L724.3,121.0 L726.3,120.9 L728.3,120.7 L730.4,120.5 L732.4,120.3 L734.4,120.2 L736.5,120.0 L738.5,119.8 L740.6,119.7 L742.6,119.5 L744.7,119.4 L746.7,119.2 L748.8,119.1 L750.9,118.9 L753.0,118.8 L755.1,118.6 L757.2,118.5 L759.3,118.3 L761.4,118.2 L763.5,118.0 L765.6,117.9 L767.8,117.7 L769.9,117.6 L772.0,117.5 L774.2,117.3 L776.3,117.2 L778.5,117.1" stroke="#ff0000"/>
</g>
<rect x="144" y="68" width="635" height="516" fill="none" stroke="#000" stroke-width="3.9"/>
<path d="M196.4,68 v4.8 M196.4,584 v-4.8 M249.3,68 v9.9 M249.3,584 v-9.9 M302.2,68 v4.8 M302.2,584 v-4.8 M355.2,68 v9.9 M355.2,584 v-9.9 M408.1,68 v4.8 M408.1,584 v-4.8 M513.9,68 v4.8 M513.9,584 v-4.8 M566.8,68 v9.9 M566.8,584 v-9.9 M619.8,68 v4.8 M619.8,584 v-4.8 M672.7,68 v9.9 M672.7,584 v-9.9 M725.6,68 v4.8 M725.6,584 v-4.8 M144,519.5 h4.8 M779,519.5 h-4.8 M144,455 h9.9 M779,455 h-9.9 M144,390.5 h4.8 M779,390.5 h-4.8 M144,261.5 h4.8 M779,261.5 h-4.8 M144,197 h9.9 M779,197 h-9.9 M144,132.5 h4.8 M779,132.5 h-4.8" stroke="#000" stroke-width="3.6" stroke-linecap="round" fill="none"/>
<g font-family='"Liberation Serif", serif' font-size="33.5" fill="#000">
<text x="143.5" y="619.7" text-anchor="middle">-30</text>
<text x="249.3" y="619.7" text-anchor="middle">-20</text>
<text x="355.2" y="619.7" text-anchor="middle">-10</text>
<text x="461" y="619.7" text-anchor="middle">0</text>
<text x="566.8" y="619.7" text-anchor="middle">10</text>
<text x="672.7" y="619.7" text-anchor="middle">20</text>
<text x="778.5" y="619.7" text-anchor="middle">30</text>
<text x="132.7" y="78.6" text-anchor="end">1.0</text>
<text x="132.7" y="207.6" text-anchor="end">0.5</text>
<text x="132.7" y="336.6" text-anchor="end">0.0</text>
<text x="132.7" y="465.6" text-anchor="end">-0.5</text>
<text x="132.7" y="594.6" text-anchor="end">-1.0</text>
</g>
<text transform="translate(45.2,336.1) rotate(-90)" text-anchor="middle" font-family='"Liberation Serif", serif' font-size="42.3" fill="#000">Magnetization (×10<tspan font-size="26.5" dy="-18.5">6</tspan><tspan dy="18.5"> A/m)</tspan></text>
<text x="369.4" y="671.7" font-family='"Liberation Serif", serif' font-size="44" fill="#000"><tspan font-style="italic">μ</tspan><tspan font-style="italic" font-size="26" dx="3.5" dy="14.6">0</tspan><tspan font-style="italic" dx="-0.5" dy="-14.6">H</tspan><tspan font-size="42.7" dx="-3"> (mT)</tspan></text>
<text x="463" y="44" text-anchor="middle" font-family='"Liberation Serif", serif' font-size="33" fill="#000">FeGa (<tspan font-weight="bold">28 nm</tspan>)/Kapton</text>
<text x="6.8" y="44.8" font-family='"Liberation Serif", serif' font-size="54.5" font-weight="bold" fill="#000">(a)</text>
<rect x="193.4" y="101.3" width="92.4" height="73.5" rx="1.5" fill="#fff" stroke="#5a5a5a" stroke-width="1.2"/>
<path d="M194,119.4 H262.3" stroke="#0000ff" stroke-width="6" stroke-linecap="round"/>
<path d="M194,157.1 H262.3" stroke="#ff0000" stroke-width="6" stroke-linecap="round"/>
<text x="266.8" y="129.1" font-family='"Liberation Serif", serif' font-size="30" fill="#000">x</text>
<text x="266.8" y="166.8" font-family='"Liberation Serif", serif' font-size="30" fill="#000">y</text>
<rect x="535" y="341.8" width="227.3" height="194.7" fill="#fff"/>
<clipPath id="iclipa"><rect x="535" y="341.8" width="227.3" height="194.7"/></clipPath>
<path d="M535,439.4 H762.3 M648.4,341.8 V536.5" stroke="#000" stroke-width="1.2" fill="none"/>
<g clip-path="url(#iclipa)" fill="none" stroke-linejoin="round" stroke-width="3.9">
<path d="M529.5,502.2 L530.3,501.9 L531.1,501.6 L532.0,501.2 L532.8,500.9 L533.7,500.6 L534.5,500.3 L535.3,500.0 L536.2,499.7 L537.0,499.4 L537.8,499.1 L538.6,498.8 L539.4,498.5 L540.3,498.2 L541.1,497.9 L541.9,497.6 L542.7,497.3 L543.5,497.0 L544.3,496.7 L545.1,496.3 L545.9,496.0 L546.7,495.7 L547.5,495.3 L548.3,495.0 L549.1,494.6 L549.9,494.2 L550.6,493.8 L551.4,493.4 L552.2,492.9 L553.0,492.4 L553.8,491.9 L554.5,491.3 L555.3,490.7 L556.1,490.1 L556.8,489.4 L557.6,488.6 L558.3,487.8 L559.1,487.0 L559.8,486.1 L560.6,485.1 L561.3,484.0 L562.1,482.9 L562.8,481.7 L563.6,480.4 L564.3,479.0 L565.0,477.6 L565.8,476.0 L566.5,474.3 L567.2,472.5 L567.9,470.7 L568.7,468.7 L569.4,466.7 L570.1,464.6 L570.8,462.5 L571.5,460.4 L572.2,458.3 L572.9,456.2 L573.6,454.1 L574.3,452.1 L575.0,450.1 L575.7,448.2 L576.4,446.3 L577.1,444.5 L577.8,442.7 L578.5,440.9 L579.1,439.2 L579.8,437.5 L580.5,435.8 L581.2,434.2 L581.8,432.6 L582.5,431.1 L583.2,429.6 L583.8,428.1 L584.5,426.6 L585.1,425.2 L585.8,423.8 L586.4,422.4 L587.1,421.1 L587.7,419.7 L588.4,418.4 L589.0,417.1 L589.6,415.9 L590.3,414.6 L590.9,413.4 L591.5,412.1 L592.2,410.9 L592.8,409.7 L593.4,408.4 L594.0,407.2 L594.6,406.0 L595.2,404.7 L595.8,403.5 L596.5,402.3 L597.1,401.0 L597.7,399.8 L598.2,398.6 L598.8,397.4 L599.4,396.2 L600.0,395.1 L600.6,394.0 L601.2,392.9 L601.8,391.8 L602.3,390.7 L602.9,389.7 L603.5,388.7 L604.0,387.7 L604.6,386.8 L605.2,385.9 L605.7,385.0 L606.3,384.1 L606.8,383.2 L607.4,382.4 L607.9,381.6 L608.5,380.8 L609.0,380.0 L609.5,379.3 L610.1,378.5 L610.6,377.8 L611.1,377.1 L611.7,376.5 L612.2,375.8 L612.7,375.2 L613.2,374.5 L613.7,373.9 L614.2,373.4 L614.7,372.8 L615.2,372.2 L615.7,371.7 L616.2,371.2 L616.7,370.7 L617.2,370.2 L617.7,369.7 L618.2,369.3 L618.7,368.8 L619.1,368.4 L619.6,368.0 L620.1,367.6 L620.6,367.2 L621.0,366.8 L621.5,366.5 L621.9,366.1 L622.4,365.8 L622.9,365.5 L623.3,365.2 L623.7,364.8 L624.2,364.6 L624.6,364.3 L625.1,364.0 L625.5,363.7 L625.9,363.5 L626.3,363.2 L626.8,363.0 L627.2,362.8 L627.6,362.5 L628.0,362.3 L628.4,362.1 L628.8,361.9 L629.2,361.7 L629.6,361.5 L630.0,361.3 L630.4,361.2 L630.8,361.0 L631.2,360.8 L631.6,360.7 L631.9,360.5 L632.3,360.4 L632.7,360.2 L633.1,360.1 L633.4,359.9 L633.8,359.8 L634.1,359.7 L634.5,359.6 L634.8,359.5 L635.2,359.3 L635.5,359.2 L635.9,359.1 L636.2,359.0 L636.5,358.9 L636.8,358.9 L637.2,358.8 L637.5,358.7 L637.8,358.6 L638.1,358.5 L638.4,358.5 L638.7,358.4 L639.0,358.3 L639.3,358.2 L639.6,358.2 L639.9,358.1 L640.2,358.1 L640.5,358.0 L640.7,358.0 L641.0,357.9 L641.3,357.9 L641.5,357.8 L641.8,357.8 L642.1,357.7 L642.3,357.7 L642.6,357.6 L642.8,357.6 L643.0,357.6 L643.3,357.5 L643.5,357.5 L643.7,357.4 L644.0,357.4 L644.2,357.4 L644.4,357.3 L644.6,357.3 L644.8,357.3 L645.0,357.3 L645.2,357.2 L645.4,357.2 L645.6,357.2 L645.7,357.2 L645.9,357.1 L646.1,357.1 L646.3,357.1 L646.4,357.1 L646.6,357.0 L646.7,357.0 L646.9,357.0 L647.0,357.0 L647.1,357.0 L647.3,357.0 L647.4,356.9 L647.5,356.9 L647.6,356.9 L647.7,356.9 L647.8,356.9 L647.9,356.9 L648.0,356.9 L648.1,356.9 L648.1,356.8 L648.2,356.8 L648.3,356.8 L648.3,356.8 L648.3,356.8 L648.4,356.8 L648.4,356.8 L648.4,356.8 L648.4,356.8 L648.5,356.8 L648.5,356.8 L648.5,356.8 L648.6,356.8 L648.7,356.8 L648.7,356.8 L648.8,356.8 L648.9,356.8 L649.0,356.7 L649.1,356.7 L649.2,356.7 L649.3,356.7 L649.4,356.7 L649.5,356.7 L649.7,356.7 L649.8,356.6 L649.9,356.6 L650.1,356.6 L650.2,356.6 L650.4,356.6 L650.5,356.5 L650.7,356.5 L650.9,356.5 L651.1,356.5 L651.2,356.5 L651.4,356.4 L651.6,356.4 L651.8,356.4 L652.0,356.4 L652.2,356.3 L652.4,356.3 L652.6,356.3 L652.8,356.3 L653.1,356.2 L653.3,356.2 L653.5,356.2 L653.8,356.1 L654.0,356.1 L654.2,356.1 L654.5,356.1 L654.7,356.0 L655.0,356.0 L655.3,356.0 L655.5,355.9 L655.8,355.9 L656.1,355.9 L656.3,355.8 L656.6,355.8 L656.9,355.8 L657.2,355.7 L657.5,355.7 L657.8,355.7 L658.1,355.6 L658.4,355.6 L658.7,355.6 L659.0,355.5 L659.3,355.5 L659.6,355.4 L660.0,355.4 L660.3,355.4 L660.6,355.3 L660.9,355.3 L661.3,355.3 L661.6,355.2 L662.0,355.2 L662.3,355.1 L662.7,355.1 L663.0,355.1 L663.4,355.0 L663.7,355.0 L664.1,354.9 L664.5,354.9 L664.9,354.8 L665.2,354.8 L665.6,354.8 L666.0,354.7 L666.4,354.7 L666.8,354.6 L667.2,354.6 L667.6,354.5 L668.0,354.5 L668.4,354.5 L668.8,354.4 L669.2,354.4 L669.6,354.3 L670.0,354.3 L670.5,354.2 L670.9,354.2 L671.3,354.2 L671.7,354.1 L672.2,354.1 L672.6,354.0 L673.1,354.0 L673.5,353.9 L673.9,353.9 L674.4,353.8 L674.9,353.8 L675.3,353.7 L675.8,353.7 L676.2,353.7 L676.7,353.6 L677.2,353.6 L677.7,353.5 L678.1,353.5 L678.6,353.4 L679.1,353.4 L679.6,353.3 L680.1,353.3 L680.6,353.3 L681.1,353.2 L681.6,353.2 L682.1,353.1 L682.6,353.1 L683.1,353.0 L683.6,353.0 L684.1,352.9 L684.6,352.9 L685.1,352.8 L685.7,352.8 L686.2,352.8 L686.7,352.7 L687.3,352.7 L687.8,352.6 L688.3,352.6 L688.9,352.5 L689.4,352.5 L690.0,352.4 L690.5,352.4 L691.1,352.4 L691.6,352.3 L692.2,352.3 L692.8,352.2 L693.3,352.2 L693.9,352.1 L694.5,352.1 L695.0,352.0 L695.6,352.0 L696.2,352.0 L696.8,351.9 L697.4,351.9 L698.0,351.8 L698.6,351.8 L699.1,351.7 L699.7,351.7 L700.3,351.7 L701.0,351.6 L701.6,351.6 L702.2,351.5 L702.8,351.5 L703.4,351.4 L704.0,351.4 L704.6,351.4 L705.3,351.3 L705.9,351.3 L706.5,351.2 L707.2,351.2 L707.8,351.2 L708.4,351.1 L709.1,351.1 L709.7,351.0 L710.4,351.0 L711.0,350.9 L711.7,350.9 L712.3,350.9 L713.0,350.8 L713.6,350.8 L714.3,350.7 L715.0,350.7 L715.6,350.7 L716.3,350.6 L717.0,350.6 L717.7,350.5 L718.3,350.5 L719.0,350.5 L719.7,350.4 L720.4,350.4 L721.1,350.3 L721.8,350.3 L722.5,350.3 L723.2,350.2 L723.9,350.2 L724.6,350.2 L725.3,350.1 L726.0,350.1 L726.7,350.0 L727.4,350.0 L728.1,350.0 L728.9,349.9 L729.6,349.9 L730.3,349.9 L731.0,349.8 L731.8,349.8 L732.5,349.7 L733.2,349.7 L734.0,349.7 L734.7,349.6 L735.5,349.6 L736.2,349.6 L737.0,349.5 L737.7,349.5 L738.5,349.4 L739.2,349.4 L740.0,349.4 L740.7,349.3 L741.5,349.3 L742.3,349.3 L743.0,349.2 L743.8,349.2 L744.6,349.2 L745.4,349.1 L746.2,349.1 L746.9,349.1 L747.7,349.0 L748.5,349.0 L749.3,348.9 L750.1,348.9 L750.9,348.9 L751.7,348.8 L752.5,348.8 L753.3,348.8 L754.1,348.7 L754.9,348.7 L755.7,348.7 L756.5,348.6 L757.4,348.6 L758.2,348.6 L759.0,348.5 L759.8,348.5 L760.6,348.5 L761.5,348.4 L762.3,348.4 L763.1,348.4 L764.0,348.3 L764.8,348.3 L765.7,348.3 L766.5,348.2 L767.3,348.2" stroke="#0000ff"/>
<path d="M529.5,530.4 L530.3,530.4 L531.1,530.4 L532.0,530.3 L532.8,530.3 L533.7,530.3 L534.5,530.2 L535.3,530.2 L536.2,530.1 L537.0,530.1 L537.8,530.1 L538.6,530.0 L539.4,530.0 L540.3,530.0 L541.1,529.9 L541.9,529.9 L542.7,529.9 L543.5,529.8 L544.3,529.8 L545.1,529.8 L545.9,529.7 L546.7,529.7 L547.5,529.7 L548.3,529.6 L549.1,529.6 L549.9,529.6 L550.6,529.5 L551.4,529.5 L552.2,529.4 L553.0,529.4 L553.8,529.4 L554.5,529.3 L555.3,529.3 L556.1,529.3 L556.8,529.2 L557.6,529.2 L558.3,529.2 L559.1,529.1 L559.8,529.1 L560.6,529.1 L561.3,529.0 L562.1,529.0 L562.8,528.9 L563.6,528.9 L564.3,528.9 L565.0,528.8 L565.8,528.8 L566.5,528.8 L567.2,528.7 L567.9,528.7 L568.7,528.7 L569.4,528.6 L570.1,528.6 L570.8,528.5 L571.5,528.5 L572.2,528.5 L572.9,528.4 L573.6,528.4 L574.3,528.4 L575.0,528.3 L575.7,528.3 L576.4,528.3 L577.1,528.2 L577.8,528.2 L578.5,528.1 L579.1,528.1 L579.8,528.1 L580.5,528.0 L581.2,528.0 L581.8,528.0 L582.5,527.9 L583.2,527.9 L583.8,527.9 L584.5,527.8 L585.1,527.8 L585.8,527.7 L586.4,527.7 L587.1,527.7 L587.7,527.6 L588.4,527.6 L589.0,527.6 L589.6,527.5 L590.3,527.5 L590.9,527.4 L591.5,527.4 L592.2,527.4 L592.8,527.3 L593.4,527.3 L594.0,527.3 L594.6,527.2 L595.2,527.2 L595.8,527.2 L596.5,527.1 L597.1,527.1 L597.7,527.0 L598.2,527.0 L598.8,527.0 L599.4,526.9 L600.0,526.9 L600.6,526.9 L601.2,526.8 L601.8,526.8 L602.3,526.7 L602.9,526.7 L603.5,526.7 L604.0,526.6 L604.6,526.6 L605.2,526.6 L605.7,526.5 L606.3,526.5 L606.8,526.4 L607.4,526.4 L607.9,526.4 L608.5,526.3 L609.0,526.3 L609.5,526.3 L610.1,526.2 L610.6,526.2 L611.1,526.1 L611.7,526.1 L612.2,526.1 L612.7,526.0 L613.2,526.0 L613.7,525.9 L614.2,525.9 L614.7,525.9 L615.2,525.8 L615.7,525.8 L616.2,525.8 L616.7,525.7 L617.2,525.7 L617.7,525.6 L618.2,525.6 L618.7,525.6 L619.1,525.5 L619.6,525.5 L620.1,525.4 L620.6,525.4 L621.0,525.4 L621.5,525.3 L621.9,525.3 L622.4,525.3 L622.9,525.2 L623.3,525.2 L623.7,525.1 L624.2,525.1 L624.6,525.1 L625.1,525.0 L625.5,525.0 L625.9,524.9 L626.3,524.9 L626.8,524.9 L627.2,524.8 L627.6,524.8 L628.0,524.7 L628.4,524.7 L628.8,524.7 L629.2,524.6 L629.6,524.6 L630.0,524.6 L630.4,524.5 L630.8,524.5 L631.2,524.4 L631.6,524.4 L631.9,524.4 L632.3,524.3 L632.7,524.3 L633.1,524.2 L633.4,524.2 L633.8,524.2 L634.1,524.1 L634.5,524.1 L634.8,524.1 L635.2,524.0 L635.5,524.0 L635.9,524.0 L636.2,523.9 L636.5,523.9 L636.8,523.8 L637.2,523.8 L637.5,523.8 L637.8,523.7 L638.1,523.7 L638.4,523.7 L638.7,523.6 L639.0,523.6 L639.3,523.6 L639.6,523.5 L639.9,523.5 L640.2,523.5 L640.5,523.4 L640.7,523.4 L641.0,523.4 L641.3,523.3 L641.5,523.3 L641.8,523.3 L642.1,523.2 L642.3,523.2 L642.6,523.2 L642.8,523.1 L643.0,523.1 L643.3,523.1 L643.5,523.1 L643.7,523.0 L644.0,523.0 L644.2,523.0 L644.4,522.9 L644.6,522.9 L644.8,522.9 L645.0,522.9 L645.2,522.8 L645.4,522.8 L645.6,522.8 L645.7,522.8 L645.9,522.7 L646.1,522.7 L646.3,522.7 L646.4,522.7 L646.6,522.7 L646.7,522.6 L646.9,522.6 L647.0,522.6 L647.1,522.6 L647.3,522.6 L647.4,522.6 L647.5,522.5 L647.6,522.5 L647.7,522.5 L647.8,522.5 L647.9,522.5 L648.0,522.5 L648.1,522.5 L648.1,522.5 L648.2,522.4 L648.3,522.4 L648.3,522.4 L648.3,522.4 L648.4,522.4 L648.4,522.4 L648.4,522.4 L648.4,522.4 L648.5,522.4 L648.5,522.4 L648.5,522.4 L648.6,522.4 L648.7,522.4 L648.7,522.4 L648.8,522.4 L648.9,522.4 L649.0,522.3 L649.1,522.3 L649.2,522.3 L649.3,522.3 L649.4,522.3 L649.5,522.3 L649.7,522.2 L649.8,522.2 L649.9,522.2 L650.1,522.2 L650.2,522.2 L650.4,522.1 L650.5,522.1 L650.7,522.1 L650.9,522.1 L651.1,522.0 L651.2,522.0 L651.4,522.0 L651.6,522.0 L651.8,521.9 L652.0,521.9 L652.2,521.9 L652.4,521.8 L652.6,521.8 L652.8,521.8 L653.1,521.7 L653.3,521.7 L653.5,521.7 L653.8,521.6 L654.0,521.6 L654.2,521.5 L654.5,521.5 L654.7,521.4 L655.0,521.4 L655.3,521.3 L655.5,521.3 L655.8,521.2 L656.1,521.2 L656.3,521.1 L656.6,521.1 L656.9,521.0 L657.2,520.9 L657.5,520.9 L657.8,520.8 L658.1,520.7 L658.4,520.6 L658.7,520.6 L659.0,520.5 L659.3,520.4 L659.6,520.3 L660.0,520.2 L660.3,520.1 L660.6,520.0 L660.9,519.9 L661.3,519.8 L661.6,519.7 L662.0,519.6 L662.3,519.5 L662.7,519.4 L663.0,519.2 L663.4,519.1 L663.7,519.0 L664.1,518.8 L664.5,518.7 L664.9,518.6 L665.2,518.4 L665.6,518.2 L666.0,518.1 L666.4,517.9 L666.8,517.7 L667.2,517.5 L667.6,517.4 L668.0,517.2 L668.4,517.0 L668.8,516.8 L669.2,516.5 L669.6,516.3 L670.0,516.1 L670.5,515.9 L670.9,515.6 L671.3,515.4 L671.7,515.1 L672.2,514.9 L672.6,514.6 L673.1,514.3 L673.5,514.0 L673.9,513.7 L674.4,513.4 L674.9,513.1 L675.3,512.8 L675.8,512.4 L676.2,512.1 L676.7,511.7 L677.2,511.3 L677.7,510.9 L678.1,510.5 L678.6,510.1 L679.1,509.7 L679.6,509.2 L680.1,508.8 L680.6,508.3 L681.1,507.8 L681.6,507.3 L682.1,506.8 L682.6,506.3 L683.1,505.8 L683.6,505.2 L684.1,504.6 L684.6,504.0 L685.1,503.4 L685.7,502.8 L686.2,502.2 L686.7,501.5 L687.3,500.8 L687.8,500.2 L688.3,499.4 L688.9,498.7 L689.4,498.0 L690.0,497.2 L690.5,496.4 L691.1,495.6 L691.6,494.8 L692.2,494.0 L692.8,493.1 L693.3,492.2 L693.9,491.4 L694.5,490.4 L695.0,489.5 L695.6,488.5 L696.2,487.6 L696.8,486.6 L697.4,485.5 L698.0,484.5 L698.6,483.4 L699.1,482.4 L699.7,481.3 L700.3,480.1 L701.0,479.0 L701.6,477.8 L702.2,476.6 L702.8,475.4 L703.4,474.1 L704.0,472.9 L704.6,471.6 L705.3,470.3 L705.9,468.9 L706.5,467.6 L707.2,466.2 L707.8,464.8 L708.4,463.3 L709.1,461.9 L709.7,460.4 L710.4,458.9 L711.0,457.4 L711.7,455.8 L712.3,454.2 L713.0,452.6 L713.6,451.0 L714.3,449.3 L715.0,447.7 L715.6,446.0 L716.3,444.3 L717.0,442.7 L717.7,441.0 L718.3,439.3 L719.0,437.7 L719.7,436.0 L720.4,434.4 L721.1,432.7 L721.8,431.1 L722.5,429.5 L723.2,427.9 L723.9,426.2 L724.6,424.5 L725.3,422.8 L726.0,421.0 L726.7,419.1 L727.4,417.2 L728.1,415.2 L728.9,413.0 L729.6,410.8 L730.3,408.6 L731.0,406.4 L731.8,404.3 L732.5,402.2 L733.2,400.4 L734.0,398.6 L734.7,397.1 L735.5,395.6 L736.2,394.3 L737.0,393.1 L737.7,392.1 L738.5,391.1 L739.2,390.1 L740.0,389.3 L740.7,388.5 L741.5,387.8 L742.3,387.2 L743.0,386.6 L743.8,386.0 L744.6,385.5 L745.4,385.1 L746.2,384.6 L746.9,384.2 L747.7,383.8 L748.5,383.4 L749.3,383.1 L750.1,382.7 L750.9,382.3 L751.7,382.0 L752.5,381.7 L753.3,381.3 L754.1,381.0 L754.9,380.7 L755.7,380.4 L756.5,380.0 L757.4,379.7 L758.2,379.4 L759.0,379.1 L759.8,378.8 L760.6,378.5 L761.5,378.2 L762.3,377.9 L763.1,377.6 L764.0,377.3 L764.8,377.0 L765.7,376.7 L766.5,376.4 L767.3,376.1" stroke="#0000ff"/>
<path d="M529.5,499.2 L530.3,498.8 L531.1,498.5 L532.0,498.2 L532.8,497.9 L533.7,497.6 L534.5,497.2 L535.3,496.9 L536.2,496.6 L537.0,496.2 L537.8,495.9 L538.6,495.5 L539.4,495.2 L540.3,494.8 L541.1,494.5 L541.9,494.1 L542.7,493.8 L543.5,493.4 L544.3,493.0 L545.1,492.7 L545.9,492.3 L546.7,491.9 L547.5,491.5 L548.3,491.2 L549.1,490.8 L549.9,490.4 L550.6,490.0 L551.4,489.6 L552.2,489.2 L553.0,488.8 L553.8,488.4 L554.5,488.0 L555.3,487.6 L556.1,487.2 L556.8,486.8 L557.6,486.3 L558.3,485.9 L559.1,485.5 L559.8,485.0 L560.6,484.6 L561.3,484.1 L562.1,483.7 L562.8,483.2 L563.6,482.7 L564.3,482.2 L565.0,481.8 L565.8,481.2 L566.5,480.7 L567.2,480.2 L567.9,479.7 L568.7,479.1 L569.4,478.5 L570.1,478.0 L570.8,477.4 L571.5,476.7 L572.2,476.1 L572.9,475.5 L573.6,474.8 L574.3,474.1 L575.0,473.4 L575.7,472.7 L576.4,472.0 L577.1,471.2 L577.8,470.5 L578.5,469.7 L579.1,468.9 L579.8,468.2 L580.5,467.4 L581.2,466.6 L581.8,465.8 L582.5,465.0 L583.2,464.2 L583.8,463.4 L584.5,462.6 L585.1,461.8 L585.8,461.0 L586.4,460.3 L587.1,459.5 L587.7,458.8 L588.4,458.0 L589.0,457.3 L589.6,456.5 L590.3,455.8 L590.9,455.1 L591.5,454.4 L592.2,453.7 L592.8,453.0 L593.4,452.4 L594.0,451.7 L594.6,451.0 L595.2,450.4 L595.8,449.8 L596.5,449.1 L597.1,448.5 L597.7,447.9 L598.2,447.3 L598.8,446.7 L599.4,446.1 L600.0,445.5 L600.6,444.9 L601.2,444.3 L601.8,443.8 L602.3,443.2 L602.9,442.7 L603.5,442.1 L604.0,441.6 L604.6,441.1 L605.2,440.5 L605.7,440.0 L606.3,439.5 L606.8,439.0 L607.4,438.5 L607.9,438.0 L608.5,437.5 L609.0,437.0 L609.5,436.6 L610.1,436.1 L610.6,435.6 L611.1,435.2 L611.7,434.7 L612.2,434.3 L612.7,433.8 L613.2,433.4 L613.7,432.9 L614.2,432.5 L614.7,432.0 L615.2,431.6 L615.7,431.2 L616.2,430.8 L616.7,430.3 L617.2,429.9 L617.7,429.5 L618.2,429.1 L618.7,428.7 L619.1,428.3 L619.6,427.8 L620.1,427.4 L620.6,427.0 L621.0,426.6 L621.5,426.2 L621.9,425.8 L622.4,425.4 L622.9,425.0 L623.3,424.7 L623.7,424.3 L624.2,423.9 L624.6,423.5 L625.1,423.1 L625.5,422.8 L625.9,422.4 L626.3,422.0 L626.8,421.7 L627.2,421.3 L627.6,420.9 L628.0,420.6 L628.4,420.2 L628.8,419.9 L629.2,419.5 L629.6,419.2 L630.0,418.8 L630.4,418.5 L630.8,418.2 L631.2,417.8 L631.6,417.5 L631.9,417.2 L632.3,416.9 L632.7,416.6 L633.1,416.2 L633.4,415.9 L633.8,415.6 L634.1,415.3 L634.5,415.0 L634.8,414.7 L635.2,414.4 L635.5,414.2 L635.9,413.9 L636.2,413.6 L636.5,413.3 L636.8,413.0 L637.2,412.8 L637.5,412.5 L637.8,412.2 L638.1,412.0 L638.4,411.7 L638.7,411.5 L639.0,411.2 L639.3,411.0 L639.6,410.7 L639.9,410.5 L640.2,410.3 L640.5,410.0 L640.7,409.8 L641.0,409.6 L641.3,409.4 L641.5,409.2 L641.8,409.0 L642.1,408.7 L642.3,408.5 L642.6,408.3 L642.8,408.2 L643.0,408.0 L643.3,407.8 L643.5,407.6 L643.7,407.4 L644.0,407.2 L644.2,407.1 L644.4,406.9 L644.6,406.7 L644.8,406.6 L645.0,406.4 L645.2,406.3 L645.4,406.1 L645.6,406.0 L645.7,405.8 L645.9,405.7 L646.1,405.6 L646.3,405.4 L646.4,405.3 L646.6,405.2 L646.7,405.1 L646.9,405.0 L647.0,404.9 L647.1,404.8 L647.3,404.7 L647.4,404.6 L647.5,404.5 L647.6,404.4 L647.7,404.3 L647.8,404.2 L647.9,404.2 L648.0,404.1 L648.1,404.0 L648.1,404.0 L648.2,403.9 L648.3,403.9 L648.3,403.9 L648.3,403.8 L648.4,403.8 L648.4,403.8 L648.4,403.8 L648.4,403.8 L648.5,403.8 L648.5,403.7 L648.5,403.7 L648.6,403.7 L648.7,403.6 L648.7,403.5 L648.8,403.5 L648.9,403.4 L649.0,403.4 L649.1,403.3 L649.2,403.2 L649.3,403.1 L649.4,403.0 L649.5,402.9 L649.7,402.9 L649.8,402.8 L649.9,402.6 L650.1,402.5 L650.2,402.4 L650.4,402.3 L650.5,402.2 L650.7,402.1 L650.9,402.0 L651.1,401.8 L651.2,401.7 L651.4,401.6 L651.6,401.4 L651.8,401.3 L652.0,401.1 L652.2,401.0 L652.4,400.9 L652.6,400.7 L652.8,400.6 L653.1,400.4 L653.3,400.2 L653.5,400.1 L653.8,399.9 L654.0,399.7 L654.2,399.6 L654.5,399.4 L654.7,399.2 L655.0,399.1 L655.3,398.9 L655.5,398.7 L655.8,398.5 L656.1,398.3 L656.3,398.2 L656.6,398.0 L656.9,397.8 L657.2,397.6 L657.5,397.4 L657.8,397.2 L658.1,397.0 L658.4,396.8 L658.7,396.6 L659.0,396.4 L659.3,396.2 L659.6,396.0 L660.0,395.8 L660.3,395.6 L660.6,395.4 L660.9,395.2 L661.3,395.0 L661.6,394.8 L662.0,394.6 L662.3,394.4 L662.7,394.1 L663.0,393.9 L663.4,393.7 L663.7,393.5 L664.1,393.3 L664.5,393.1 L664.9,392.9 L665.2,392.6 L665.6,392.4 L666.0,392.2 L666.4,392.0 L666.8,391.8 L667.2,391.6 L667.6,391.3 L668.0,391.1 L668.4,390.9 L668.8,390.7 L669.2,390.5 L669.6,390.2 L670.0,390.0 L670.5,389.8 L670.9,389.6 L671.3,389.4 L671.7,389.2 L672.2,388.9 L672.6,388.7 L673.1,388.5 L673.5,388.3 L673.9,388.1 L674.4,387.8 L674.9,387.6 L675.3,387.4 L675.8,387.2 L676.2,387.0 L676.7,386.8 L677.2,386.6 L677.7,386.3 L678.1,386.1 L678.6,385.9 L679.1,385.7 L679.6,385.5 L680.1,385.3 L680.6,385.1 L681.1,384.8 L681.6,384.6 L682.1,384.4 L682.6,384.2 L683.1,384.0 L683.6,383.8 L684.1,383.6 L684.6,383.4 L685.1,383.2 L685.7,383.0 L686.2,382.8 L686.7,382.6 L687.3,382.4 L687.8,382.2 L688.3,381.9 L688.9,381.7 L689.4,381.5 L690.0,381.3 L690.5,381.1 L691.1,380.9 L691.6,380.7 L692.2,380.5 L692.8,380.3 L693.3,380.1 L693.9,380.0 L694.5,379.8 L695.0,379.6 L695.6,379.4 L696.2,379.2 L696.8,379.0 L697.4,378.8 L698.0,378.6 L698.6,378.4 L699.1,378.2 L699.7,378.0 L700.3,377.8 L701.0,377.6 L701.6,377.5 L702.2,377.3 L702.8,377.1 L703.4,376.9 L704.0,376.7 L704.6,376.5 L705.3,376.3 L705.9,376.2 L706.5,376.0 L707.2,375.8 L707.8,375.6 L708.4,375.4 L709.1,375.2 L709.7,375.1 L710.4,374.9 L711.0,374.7 L711.7,374.5 L712.3,374.3 L713.0,374.2 L713.6,374.0 L714.3,373.8 L715.0,373.6 L715.6,373.5 L716.3,373.3 L717.0,373.1 L717.7,372.9 L718.3,372.8 L719.0,372.6 L719.7,372.4 L720.4,372.2 L721.1,372.1 L721.8,371.9 L722.5,371.7 L723.2,371.6 L723.9,371.4 L724.6,371.2 L725.3,371.0 L726.0,370.9 L726.7,370.7 L727.4,370.5 L728.1,370.4 L728.9,370.2 L729.6,370.0 L730.3,369.9 L731.0,369.7 L731.8,369.5 L732.5,369.4 L733.2,369.2 L734.0,369.0 L734.7,368.9 L735.5,368.7 L736.2,368.5 L737.0,368.4 L737.7,368.2 L738.5,368.1 L739.2,367.9 L740.0,367.7 L740.7,367.6 L741.5,367.4 L742.3,367.3 L743.0,367.1 L743.8,366.9 L744.6,366.8 L745.4,366.6 L746.2,366.5 L746.9,366.3 L747.7,366.1 L748.5,366.0 L749.3,365.8 L750.1,365.7 L750.9,365.5 L751.7,365.3 L752.5,365.2 L753.3,365.0 L754.1,364.9 L754.9,364.7 L755.7,364.6 L756.5,364.4 L757.4,364.3 L758.2,364.1 L759.0,364.0 L759.8,363.8 L760.6,363.7 L761.5,363.5 L762.3,363.4 L763.1,363.2 L764.0,363.1 L764.8,362.9 L765.7,362.8 L766.5,362.6 L767.3,362.5" stroke="#ff0000"/>
<path d="M529.5,514.9 L530.3,514.7 L531.1,514.5 L532.0,514.4 L532.8,514.2 L533.7,514.0 L534.5,513.8 L535.3,513.7 L536.2,513.5 L537.0,513.3 L537.8,513.1 L538.6,512.9 L539.4,512.8 L540.3,512.6 L541.1,512.4 L541.9,512.2 L542.7,512.0 L543.5,511.8 L544.3,511.6 L545.1,511.4 L545.9,511.2 L546.7,511.0 L547.5,510.9 L548.3,510.7 L549.1,510.5 L549.9,510.3 L550.6,510.1 L551.4,509.9 L552.2,509.7 L553.0,509.5 L553.8,509.3 L554.5,509.1 L555.3,508.8 L556.1,508.6 L556.8,508.4 L557.6,508.2 L558.3,508.0 L559.1,507.8 L559.8,507.6 L560.6,507.4 L561.3,507.2 L562.1,507.0 L562.8,506.7 L563.6,506.5 L564.3,506.3 L565.0,506.1 L565.8,505.9 L566.5,505.7 L567.2,505.4 L567.9,505.2 L568.7,505.0 L569.4,504.8 L570.1,504.5 L570.8,504.3 L571.5,504.1 L572.2,503.9 L572.9,503.6 L573.6,503.4 L574.3,503.2 L575.0,503.0 L575.7,502.7 L576.4,502.5 L577.1,502.3 L577.8,502.0 L578.5,501.8 L579.1,501.6 L579.8,501.3 L580.5,501.1 L581.2,500.9 L581.8,500.6 L582.5,500.4 L583.2,500.2 L583.8,499.9 L584.5,499.7 L585.1,499.5 L585.8,499.2 L586.4,499.0 L587.1,498.8 L587.7,498.5 L588.4,498.3 L589.0,498.1 L589.6,497.8 L590.3,497.6 L590.9,497.3 L591.5,497.1 L592.2,496.9 L592.8,496.6 L593.4,496.4 L594.0,496.2 L594.6,495.9 L595.2,495.7 L595.8,495.4 L596.5,495.2 L597.1,495.0 L597.7,494.7 L598.2,494.5 L598.8,494.3 L599.4,494.0 L600.0,493.8 L600.6,493.6 L601.2,493.3 L601.8,493.1 L602.3,492.9 L602.9,492.7 L603.5,492.4 L604.0,492.2 L604.6,492.0 L605.2,491.8 L605.7,491.5 L606.3,491.3 L606.8,491.1 L607.4,490.9 L607.9,490.6 L608.5,490.4 L609.0,490.2 L609.5,490.0 L610.1,489.8 L610.6,489.6 L611.1,489.3 L611.7,489.1 L612.2,488.9 L612.7,488.7 L613.2,488.5 L613.7,488.3 L614.2,488.1 L614.7,487.9 L615.2,487.7 L615.7,487.5 L616.2,487.3 L616.7,487.1 L617.2,486.8 L617.7,486.6 L618.2,486.4 L618.7,486.2 L619.1,486.0 L619.6,485.8 L620.1,485.6 L620.6,485.4 L621.0,485.2 L621.5,485.1 L621.9,484.9 L622.4,484.7 L622.9,484.5 L623.3,484.3 L623.7,484.1 L624.2,483.9 L624.6,483.7 L625.1,483.5 L625.5,483.3 L625.9,483.1 L626.3,482.9 L626.8,482.7 L627.2,482.6 L627.6,482.4 L628.0,482.2 L628.4,482.0 L628.8,481.8 L629.2,481.6 L629.6,481.4 L630.0,481.3 L630.4,481.1 L630.8,480.9 L631.2,480.7 L631.6,480.5 L631.9,480.4 L632.3,480.2 L632.7,480.0 L633.1,479.8 L633.4,479.6 L633.8,479.5 L634.1,479.3 L634.5,479.1 L634.8,479.0 L635.2,478.8 L635.5,478.6 L635.9,478.4 L636.2,478.3 L636.5,478.1 L636.8,477.9 L637.2,477.8 L637.5,477.6 L637.8,477.4 L638.1,477.3 L638.4,477.1 L638.7,476.9 L639.0,476.8 L639.3,476.6 L639.6,476.5 L639.9,476.3 L640.2,476.2 L640.5,476.0 L640.7,475.9 L641.0,475.7 L641.3,475.6 L641.5,475.4 L641.8,475.3 L642.1,475.1 L642.3,475.0 L642.6,474.8 L642.8,474.7 L643.0,474.6 L643.3,474.4 L643.5,474.3 L643.7,474.2 L644.0,474.0 L644.2,473.9 L644.4,473.8 L644.6,473.7 L644.8,473.5 L645.0,473.4 L645.2,473.3 L645.4,473.2 L645.6,473.1 L645.7,473.0 L645.9,472.9 L646.1,472.7 L646.3,472.6 L646.4,472.5 L646.6,472.5 L646.7,472.4 L646.9,472.3 L647.0,472.2 L647.1,472.1 L647.3,472.0 L647.4,471.9 L647.5,471.9 L647.6,471.8 L647.7,471.7 L647.8,471.7 L647.9,471.6 L648.0,471.6 L648.1,471.5 L648.1,471.5 L648.2,471.4 L648.3,471.4 L648.3,471.4 L648.3,471.3 L648.4,471.3 L648.4,471.3 L648.4,471.3 L648.4,471.3 L648.5,471.3 L648.5,471.2 L648.5,471.2 L648.6,471.2 L648.7,471.1 L648.7,471.1 L648.8,471.0 L648.9,471.0 L649.0,470.9 L649.1,470.9 L649.2,470.8 L649.3,470.7 L649.4,470.6 L649.5,470.6 L649.7,470.5 L649.8,470.4 L649.9,470.3 L650.1,470.2 L650.2,470.1 L650.4,470.0 L650.5,469.9 L650.7,469.8 L650.9,469.7 L651.1,469.5 L651.2,469.4 L651.4,469.3 L651.6,469.2 L651.8,469.0 L652.0,468.9 L652.2,468.8 L652.4,468.6 L652.6,468.5 L652.8,468.3 L653.1,468.2 L653.3,468.0 L653.5,467.8 L653.8,467.7 L654.0,467.5 L654.2,467.3 L654.5,467.2 L654.7,467.0 L655.0,466.8 L655.3,466.6 L655.5,466.4 L655.8,466.2 L656.1,466.0 L656.3,465.8 L656.6,465.6 L656.9,465.4 L657.2,465.2 L657.5,464.9 L657.8,464.7 L658.1,464.5 L658.4,464.2 L658.7,464.0 L659.0,463.8 L659.3,463.5 L659.6,463.3 L660.0,463.0 L660.3,462.8 L660.6,462.5 L660.9,462.2 L661.3,462.0 L661.6,461.7 L662.0,461.4 L662.3,461.1 L662.7,460.8 L663.0,460.5 L663.4,460.2 L663.7,459.9 L664.1,459.6 L664.5,459.3 L664.9,459.0 L665.2,458.7 L665.6,458.3 L666.0,458.0 L666.4,457.7 L666.8,457.3 L667.2,457.0 L667.6,456.6 L668.0,456.3 L668.4,455.9 L668.8,455.6 L669.2,455.2 L669.6,454.8 L670.0,454.5 L670.5,454.1 L670.9,453.7 L671.3,453.3 L671.7,452.9 L672.2,452.5 L672.6,452.1 L673.1,451.7 L673.5,451.3 L673.9,450.8 L674.4,450.4 L674.9,450.0 L675.3,449.6 L675.8,449.1 L676.2,448.7 L676.7,448.2 L677.2,447.8 L677.7,447.3 L678.1,446.9 L678.6,446.4 L679.1,445.9 L679.6,445.5 L680.1,445.0 L680.6,444.5 L681.1,444.0 L681.6,443.5 L682.1,443.0 L682.6,442.5 L683.1,442.0 L683.6,441.5 L684.1,441.0 L684.6,440.5 L685.1,440.0 L685.7,439.4 L686.2,438.9 L686.7,438.4 L687.3,437.8 L687.8,437.3 L688.3,436.7 L688.9,436.2 L689.4,435.6 L690.0,435.1 L690.5,434.5 L691.1,433.9 L691.6,433.3 L692.2,432.8 L692.8,432.2 L693.3,431.6 L693.9,431.0 L694.5,430.4 L695.0,429.8 L695.6,429.2 L696.2,428.6 L696.8,428.0 L697.4,427.4 L698.0,426.8 L698.6,426.1 L699.1,425.5 L699.7,424.9 L700.3,424.3 L701.0,423.6 L701.6,423.0 L702.2,422.3 L702.8,421.7 L703.4,421.0 L704.0,420.4 L704.6,419.7 L705.3,419.0 L705.9,418.4 L706.5,417.7 L707.2,417.0 L707.8,416.4 L708.4,415.7 L709.1,415.0 L709.7,414.3 L710.4,413.6 L711.0,412.9 L711.7,412.2 L712.3,411.5 L713.0,410.8 L713.6,410.1 L714.3,409.4 L715.0,408.7 L715.6,408.0 L716.3,407.2 L717.0,406.5 L717.7,405.8 L718.3,405.1 L719.0,404.3 L719.7,403.6 L720.4,402.9 L721.1,402.2 L721.8,401.5 L722.5,400.8 L723.2,400.1 L723.9,399.5 L724.6,398.8 L725.3,398.2 L726.0,397.6 L726.7,397.0 L727.4,396.4 L728.1,395.8 L728.9,395.2 L729.6,394.7 L730.3,394.2 L731.0,393.6 L731.8,393.1 L732.5,392.6 L733.2,392.2 L734.0,391.7 L734.7,391.3 L735.5,390.8 L736.2,390.4 L737.0,390.0 L737.7,389.6 L738.5,389.2 L739.2,388.9 L740.0,388.5 L740.7,388.2 L741.5,387.8 L742.3,387.5 L743.0,387.1 L743.8,386.8 L744.6,386.5 L745.4,386.1 L746.2,385.8 L746.9,385.5 L747.7,385.2 L748.5,384.8 L749.3,384.5 L750.1,384.2 L750.9,383.9 L751.7,383.5 L752.5,383.2 L753.3,382.9 L754.1,382.6 L754.9,382.2 L755.7,381.9 L756.5,381.6 L757.4,381.2 L758.2,380.9 L759.0,380.6 L759.8,380.3 L760.6,379.9 L761.5,379.6 L762.3,379.3 L763.1,379.0 L764.0,378.7 L764.8,378.3 L765.7,378.0 L766.5,377.7 L767.3,377.4" stroke="#ff0000"/>
</g>
<rect x="535" y="341.8" width="227.3" height="194.7" fill="none" stroke="#000" stroke-width="1.7"/>
<path d="M553.4,341.8 v5.7 M553.4,536.5 v-5.7 M600.9,341.8 v3.2 M600.9,536.5 v-3.2 M648.4,341.8 v5.7 M648.4,536.5 v-5.7 M695.9,341.8 v3.2 M695.9,536.5 v-3.2 M743.4,341.8 v5.7 M743.4,536.5 v-5.7 M535,530.9 h3.2 M762.3,530.9 h-3.2 M535,500.4 h5.7 M762.3,500.4 h-5.7 M535,469.9 h3.2 M762.3,469.9 h-3.2 M535,439.4 h5.7 M762.3,439.4 h-5.7 M535,408.9 h3.2 M762.3,408.9 h-3.2 M535,378.4 h5.7 M762.3,378.4 h-5.7 M535,347.9 h3.2 M762.3,347.9 h-3.2" stroke="#000" stroke-width="1.6" fill="none"/>
<g font-family='"Liberation Sans", sans-serif' font-size="21.2" fill="#111">
<text x="553.4" y="558.5" text-anchor="middle">-5</text>
<text x="648.4" y="558.5" text-anchor="middle">0</text>
<text x="743.4" y="558.5" text-anchor="middle">5</text>
<text x="528.8" y="385.2" text-anchor="end">0.5</text>
<text x="528.8" y="446.2" text-anchor="end">0.0</text>
<text x="528.8" y="507.2" text-anchor="end">-0.5</text>
</g>
</g>
<g id="panel-b">
<clipPath id="clipb"><rect x="999" y="74.2" width="638" height="515.4"/></clipPath>
<path d="M999,331.9 H1635 M1317.2,74.2 V589.6" stroke="#000" stroke-width="3.2" fill="none"/>
<g clip-path="url(#clipb)" fill="none" stroke-linejoin="round" stroke-linecap="round" stroke-width="6.1">
<path d="M999.2,495.5 L1001.4,495.4 L1003.5,495.3 L1005.7,495.2 L1007.8,495.1 L1010.0,495.1 L1012.1,495.0 L1014.2,494.9 L1016.3,494.8 L1018.5,494.7 L1020.6,494.6 L1022.7,494.5 L1024.8,494.4 L1026.9,494.3 L1028.9,494.1 L1031.0,494.0 L1033.1,493.9 L1035.1,493.8 L1037.2,493.6 L1039.3,493.5 L1041.3,493.4 L1043.3,493.2 L1045.4,493.1 L1047.4,493.0 L1049.4,492.8 L1051.4,492.7 L1053.5,492.5 L1055.5,492.3 L1057.5,492.2 L1059.4,492.0 L1061.4,491.8 L1063.4,491.7 L1065.4,491.5 L1067.3,491.3 L1069.3,491.1 L1071.3,490.9 L1073.2,490.8 L1075.1,490.6 L1077.1,490.4 L1079.0,490.2 L1080.9,490.0 L1082.8,489.8 L1084.7,489.5 L1086.6,489.3 L1088.5,489.1 L1090.4,488.9 L1092.3,488.7 L1094.2,488.4 L1096.1,488.2 L1097.9,488.0 L1099.8,487.7 L1101.6,487.5 L1103.5,487.2 L1105.3,487.0 L1107.1,486.7 L1109.0,486.5 L1110.8,486.2 L1112.6,485.9 L1114.4,485.7 L1116.2,485.4 L1118.0,485.1 L1119.8,484.8 L1121.5,484.5 L1123.3,484.3 L1125.1,484.0 L1126.8,483.7 L1128.6,483.4 L1130.3,483.1 L1132.1,482.8 L1133.8,482.4 L1135.5,482.1 L1137.2,481.8 L1138.9,481.5 L1140.6,481.2 L1142.3,480.8 L1144.0,480.5 L1145.7,480.2 L1147.4,479.8 L1149.1,479.5 L1150.7,479.1 L1152.4,478.8 L1154.0,478.4 L1155.7,478.1 L1157.3,477.7 L1158.9,477.3 L1160.6,477.0 L1162.2,476.6 L1163.8,476.2 L1165.4,475.8 L1167.0,475.5 L1168.6,475.1 L1170.2,474.7 L1171.7,474.3 L1173.3,473.9 L1174.9,473.5 L1176.4,473.1 L1178.0,472.7 L1179.5,472.3 L1181.0,471.9 L1182.5,471.4 L1184.1,471.0 L1185.6,470.6 L1187.1,470.2 L1188.6,469.7 L1190.1,469.3 L1191.5,468.9 L1193.0,468.5 L1194.5,468.0 L1195.9,467.6 L1197.4,467.1 L1198.8,466.7 L1200.3,466.2 L1201.7,465.8 L1203.1,465.3 L1204.6,464.9 L1206.0,464.4 L1207.4,464.0 L1208.8,463.5 L1210.2,463.1 L1211.5,462.6 L1212.9,462.2 L1214.3,461.7 L1215.6,461.2 L1217.0,460.8 L1218.3,460.3 L1219.7,459.8 L1221.0,459.4 L1222.3,458.9 L1223.6,458.5 L1224.9,458.0 L1226.2,457.5 L1227.5,457.1 L1228.8,456.6 L1230.1,456.2 L1231.3,455.7 L1232.6,455.2 L1233.9,454.8 L1235.1,454.3 L1236.3,453.9 L1237.6,453.4 L1238.8,452.9 L1240.0,452.5 L1241.2,452.0 L1242.4,451.6 L1243.6,451.1 L1244.8,450.6 L1245.9,450.2 L1247.1,449.7 L1248.3,449.2 L1249.4,448.8 L1250.6,448.3 L1251.7,447.8 L1252.8,447.3 L1253.9,446.9 L1255.1,446.4 L1256.2,445.9 L1257.3,445.4 L1258.3,444.9 L1259.4,444.4 L1260.5,443.9 L1261.5,443.4 L1262.6,442.9 L1263.6,442.4 L1264.7,441.9 L1265.7,441.3 L1266.7,440.8 L1267.7,440.3 L1268.7,439.7 L1269.7,439.2 L1270.7,438.6 L1271.7,438.0 L1272.7,437.5 L1273.6,436.9 L1274.6,436.3 L1275.5,435.7 L1276.5,435.1 L1277.4,434.4 L1278.3,433.8 L1279.2,433.1 L1280.1,432.5 L1281.0,431.8 L1281.9,431.1 L1282.7,430.3 L1283.6,429.5 L1284.5,428.7 L1285.3,427.8 L1286.1,426.9 L1287.0,425.9 L1287.8,424.9 L1288.6,423.7 L1289.4,422.5 L1290.2,421.2 L1291.0,419.9 L1291.7,418.4 L1292.5,416.8 L1293.3,415.1 L1294.0,413.1 L1294.7,411.0 L1295.4,408.6 L1296.2,405.8 L1296.9,402.7 L1297.6,399.2 L1298.2,395.4 L1298.9,391.2 L1299.6,386.5 L1300.2,381.5 L1300.9,376.1 L1301.5,370.2 L1302.1,363.7 L1302.7,356.7 L1303.3,349.1 L1303.9,340.9 L1304.5,332.8 L1305.1,326.4 L1305.6,321.3 L1306.2,316.3 L1306.7,311.1 L1307.3,305.9 L1307.8,300.8 L1308.3,295.6 L1308.8,290.7 L1309.2,285.8 L1309.7,281.3 L1310.2,276.9 L1310.6,272.8 L1311.0,268.7 L1311.5,264.7 L1311.9,260.8 L1312.3,256.9 L1312.7,253.1 L1313.0,249.4 L1313.4,245.9 L1313.7,242.5 L1314.1,239.4 L1314.4,236.4 L1314.7,233.7 L1315.0,231.1 L1315.2,228.8 L1315.5,226.6 L1315.7,224.7 L1316.0,222.9 L1316.2,221.4 L1316.4,220.0 L1316.6,218.8 L1316.7,217.8 L1316.9,216.9 L1317.0,216.1 L1317.1,215.6 L1317.1,215.1 L1317.2,214.9 L1317.2,214.8 L1317.3,214.6 L1317.3,214.2 L1317.4,213.6 L1317.5,213.0 L1317.7,212.4 L1317.8,211.6 L1318.0,210.9 L1318.2,210.1 L1318.4,209.2 L1318.7,208.4 L1318.9,207.6 L1319.2,206.8 L1319.4,206.1 L1319.7,205.3 L1320.0,204.5 L1320.3,203.8 L1320.7,203.1 L1321.0,202.3 L1321.4,201.6 L1321.7,200.9 L1322.1,200.3 L1322.5,199.6 L1322.9,199.0 L1323.4,198.4 L1323.8,197.9 L1324.2,197.3 L1324.7,196.8 L1325.2,196.3 L1325.6,195.9 L1326.1,195.5 L1326.6,195.1 L1327.1,194.7 L1327.7,194.3 L1328.2,194.0 L1328.8,193.7 L1329.3,193.4 L1329.9,193.1 L1330.5,192.7 L1331.1,192.4 L1331.7,192.1 L1332.3,191.8 L1332.9,191.5 L1333.5,191.2 L1334.2,190.9 L1334.8,190.6 L1335.5,190.3 L1336.2,190.0 L1336.8,189.7 L1337.5,189.5 L1338.2,189.2 L1339.0,188.9 L1339.7,188.6 L1340.4,188.3 L1341.1,188.1 L1341.9,187.8 L1342.7,187.5 L1343.4,187.3 L1344.2,187.0 L1345.0,186.8 L1345.8,186.5 L1346.6,186.3 L1347.4,186.0 L1348.3,185.8 L1349.1,185.5 L1349.9,185.3 L1350.8,185.1 L1351.7,184.8 L1352.5,184.6 L1353.4,184.4 L1354.3,184.2 L1355.2,183.9 L1356.1,183.7 L1357.0,183.5 L1357.9,183.3 L1358.9,183.1 L1359.8,182.9 L1360.8,182.7 L1361.7,182.5 L1362.7,182.3 L1363.7,182.1 L1364.7,181.9 L1365.7,181.7 L1366.7,181.5 L1367.7,181.3 L1368.7,181.1 L1369.7,181.0 L1370.8,180.8 L1371.8,180.6 L1372.9,180.4 L1373.9,180.2 L1375.0,180.1 L1376.1,179.9 L1377.1,179.7 L1378.2,179.5 L1379.3,179.4 L1380.5,179.2 L1381.6,179.0 L1382.7,178.9 L1383.8,178.7 L1385.0,178.6 L1386.1,178.4 L1387.3,178.2 L1388.5,178.1 L1389.6,177.9 L1390.8,177.8 L1392.0,177.6 L1393.2,177.5 L1394.4,177.3 L1395.6,177.2 L1396.8,177.0 L1398.1,176.9 L1399.3,176.7 L1400.5,176.6 L1401.8,176.4 L1403.1,176.3 L1404.3,176.2 L1405.6,176.0 L1406.9,175.9 L1408.2,175.7 L1409.5,175.6 L1410.8,175.5 L1412.1,175.3 L1413.4,175.2 L1414.7,175.0 L1416.1,174.9 L1417.4,174.8 L1418.8,174.6 L1420.1,174.5 L1421.5,174.4 L1422.9,174.2 L1424.2,174.1 L1425.6,174.0 L1427.0,173.9 L1428.4,173.7 L1429.8,173.6 L1431.3,173.5 L1432.7,173.3 L1434.1,173.2 L1435.6,173.1 L1437.0,173.0 L1438.5,172.8 L1439.9,172.7 L1441.4,172.6 L1442.9,172.5 L1444.3,172.4 L1445.8,172.2 L1447.3,172.1 L1448.8,172.0 L1450.3,171.9 L1451.9,171.7 L1453.4,171.6 L1454.9,171.5 L1456.4,171.4 L1458.0,171.3 L1459.5,171.1 L1461.1,171.0 L1462.7,170.9 L1464.2,170.8 L1465.8,170.7 L1467.4,170.6 L1469.0,170.4 L1470.6,170.3 L1472.2,170.2 L1473.8,170.1 L1475.5,170.0 L1477.1,169.9 L1478.7,169.8 L1480.4,169.6 L1482.0,169.5 L1483.7,169.4 L1485.3,169.3 L1487.0,169.2 L1488.7,169.1 L1490.4,169.0 L1492.1,168.9 L1493.8,168.7 L1495.5,168.6 L1497.2,168.5 L1498.9,168.4 L1500.6,168.3 L1502.3,168.2 L1504.1,168.1 L1505.8,168.0 L1507.6,167.9 L1509.3,167.8 L1511.1,167.7 L1512.9,167.5 L1514.6,167.4 L1516.4,167.3 L1518.2,167.2 L1520.0,167.1 L1521.8,167.0 L1523.6,166.9 L1525.4,166.8 L1527.3,166.7 L1529.1,166.6 L1530.9,166.5 L1532.8,166.4 L1534.6,166.3 L1536.5,166.2 L1538.3,166.1 L1540.2,165.9 L1542.1,165.8 L1544.0,165.7 L1545.9,165.6 L1547.8,165.5 L1549.7,165.4 L1551.6,165.3 L1553.5,165.2 L1555.4,165.1 L1557.3,165.0 L1559.3,164.9 L1561.2,164.8 L1563.1,164.7 L1565.1,164.6 L1567.1,164.5 L1569.0,164.4 L1571.0,164.3 L1573.0,164.2 L1575.0,164.1 L1576.9,164.0 L1578.9,163.9 L1580.9,163.8 L1583.0,163.7 L1585.0,163.6 L1587.0,163.5 L1589.0,163.4 L1591.1,163.3 L1593.1,163.2 L1595.1,163.1 L1597.2,163.0 L1599.3,162.9 L1601.3,162.8 L1603.4,162.7 L1605.5,162.6 L1607.5,162.5 L1609.6,162.4 L1611.7,162.3 L1613.8,162.2 L1615.9,162.1 L1618.1,162.0 L1620.2,161.9 L1622.3,161.8 L1624.4,161.7 L1626.6,161.6 L1628.7,161.5 L1630.9,161.4 L1633.0,161.3 L1635.2,161.2" stroke="#0000ff"/>
<path d="M999.2,498.9 L1001.4,498.8 L1003.5,498.7 L1005.7,498.6 L1007.8,498.5 L1010.0,498.4 L1012.1,498.3 L1014.2,498.1 L1016.3,498.0 L1018.5,497.9 L1020.6,497.8 L1022.7,497.7 L1024.8,497.6 L1026.9,497.4 L1028.9,497.3 L1031.0,497.2 L1033.1,497.1 L1035.1,497.0 L1037.2,496.9 L1039.3,496.7 L1041.3,496.6 L1043.3,496.5 L1045.4,496.4 L1047.4,496.3 L1049.4,496.2 L1051.4,496.0 L1053.5,495.9 L1055.5,495.8 L1057.5,495.7 L1059.4,495.6 L1061.4,495.4 L1063.4,495.3 L1065.4,495.2 L1067.3,495.1 L1069.3,495.0 L1071.3,494.8 L1073.2,494.7 L1075.1,494.6 L1077.1,494.5 L1079.0,494.4 L1080.9,494.3 L1082.8,494.1 L1084.7,494.0 L1086.6,493.9 L1088.5,493.8 L1090.4,493.7 L1092.3,493.5 L1094.2,493.4 L1096.1,493.3 L1097.9,493.2 L1099.8,493.0 L1101.6,492.9 L1103.5,492.8 L1105.3,492.7 L1107.1,492.6 L1109.0,492.4 L1110.8,492.3 L1112.6,492.2 L1114.4,492.1 L1116.2,491.9 L1118.0,491.8 L1119.8,491.7 L1121.5,491.6 L1123.3,491.5 L1125.1,491.3 L1126.8,491.2 L1128.6,491.1 L1130.3,491.0 L1132.1,490.8 L1133.8,490.7 L1135.5,490.6 L1137.2,490.5 L1138.9,490.3 L1140.6,490.2 L1142.3,490.1 L1144.0,490.0 L1145.7,489.8 L1147.4,489.7 L1149.1,489.6 L1150.7,489.5 L1152.4,489.3 L1154.0,489.2 L1155.7,489.1 L1157.3,488.9 L1158.9,488.8 L1160.6,488.7 L1162.2,488.6 L1163.8,488.4 L1165.4,488.3 L1167.0,488.2 L1168.6,488.0 L1170.2,487.9 L1171.7,487.8 L1173.3,487.7 L1174.9,487.5 L1176.4,487.4 L1178.0,487.3 L1179.5,487.1 L1181.0,487.0 L1182.5,486.9 L1184.1,486.7 L1185.6,486.6 L1187.1,486.5 L1188.6,486.3 L1190.1,486.2 L1191.5,486.1 L1193.0,485.9 L1194.5,485.8 L1195.9,485.7 L1197.4,485.5 L1198.8,485.4 L1200.3,485.3 L1201.7,485.1 L1203.1,485.0 L1204.6,484.9 L1206.0,484.7 L1207.4,484.6 L1208.8,484.4 L1210.2,484.3 L1211.5,484.2 L1212.9,484.0 L1214.3,483.9 L1215.6,483.7 L1217.0,483.6 L1218.3,483.5 L1219.7,483.3 L1221.0,483.2 L1222.3,483.0 L1223.6,482.9 L1224.9,482.7 L1226.2,482.6 L1227.5,482.5 L1228.8,482.3 L1230.1,482.2 L1231.3,482.0 L1232.6,481.9 L1233.9,481.7 L1235.1,481.6 L1236.3,481.4 L1237.6,481.3 L1238.8,481.1 L1240.0,481.0 L1241.2,480.8 L1242.4,480.7 L1243.6,480.5 L1244.8,480.3 L1245.9,480.2 L1247.1,480.0 L1248.3,479.9 L1249.4,479.7 L1250.6,479.6 L1251.7,479.4 L1252.8,479.2 L1253.9,479.1 L1255.1,478.9 L1256.2,478.7 L1257.3,478.6 L1258.3,478.4 L1259.4,478.2 L1260.5,478.1 L1261.5,477.9 L1262.6,477.7 L1263.6,477.6 L1264.7,477.4 L1265.7,477.2 L1266.7,477.0 L1267.7,476.8 L1268.7,476.7 L1269.7,476.5 L1270.7,476.3 L1271.7,476.1 L1272.7,475.9 L1273.6,475.7 L1274.6,475.6 L1275.5,475.4 L1276.5,475.2 L1277.4,475.0 L1278.3,474.8 L1279.2,474.6 L1280.1,474.4 L1281.0,474.2 L1281.9,473.9 L1282.7,473.7 L1283.6,473.5 L1284.5,473.3 L1285.3,473.1 L1286.1,472.8 L1287.0,472.6 L1287.8,472.4 L1288.6,472.1 L1289.4,471.9 L1290.2,471.6 L1291.0,471.4 L1291.7,471.1 L1292.5,470.8 L1293.3,470.6 L1294.0,470.3 L1294.7,470.0 L1295.4,469.7 L1296.2,469.4 L1296.9,469.1 L1297.6,468.8 L1298.2,468.5 L1298.9,468.1 L1299.6,467.8 L1300.2,467.5 L1300.9,467.1 L1301.5,466.8 L1302.1,466.4 L1302.7,466.0 L1303.3,465.7 L1303.9,465.3 L1304.5,464.9 L1305.1,464.5 L1305.6,464.1 L1306.2,463.7 L1306.7,463.3 L1307.3,462.9 L1307.8,462.4 L1308.3,461.9 L1308.8,461.4 L1309.2,460.9 L1309.7,460.3 L1310.2,459.7 L1310.6,459.1 L1311.0,458.4 L1311.5,457.6 L1311.9,456.9 L1312.3,456.1 L1312.7,455.2 L1313.0,454.4 L1313.4,453.5 L1313.7,452.5 L1314.1,451.6 L1314.4,450.6 L1314.7,449.6 L1315.0,448.6 L1315.2,447.6 L1315.5,446.6 L1315.7,445.5 L1316.0,444.4 L1316.2,443.4 L1316.4,442.4 L1316.6,441.4 L1316.7,440.5 L1316.9,439.6 L1317.0,438.9 L1317.1,438.3 L1317.1,437.8 L1317.2,437.5 L1317.2,437.3 L1317.3,437.0 L1317.3,436.5 L1317.4,435.8 L1317.5,435.0 L1317.7,433.9 L1317.8,432.7 L1318.0,431.3 L1318.2,429.8 L1318.4,428.1 L1318.7,426.2 L1318.9,424.3 L1319.2,422.2 L1319.4,420.0 L1319.7,417.7 L1320.0,415.2 L1320.3,412.6 L1320.7,409.8 L1321.0,406.9 L1321.4,403.8 L1321.7,400.5 L1322.1,397.0 L1322.5,393.3 L1322.9,389.4 L1323.4,385.3 L1323.8,380.9 L1324.2,376.3 L1324.7,371.6 L1325.2,366.6 L1325.6,361.4 L1326.1,355.9 L1326.6,350.3 L1327.1,344.5 L1327.7,338.4 L1328.2,332.2 L1328.8,325.8 L1329.3,319.3 L1329.9,312.7 L1330.5,306.3 L1331.1,300.1 L1331.7,294.2 L1332.3,288.6 L1332.9,283.1 L1333.5,277.8 L1334.2,272.8 L1334.8,268.0 L1335.5,263.5 L1336.2,259.3 L1336.8,255.4 L1337.5,252.0 L1338.2,248.8 L1339.0,246.1 L1339.7,243.6 L1340.4,241.4 L1341.1,239.4 L1341.9,237.7 L1342.7,236.2 L1343.4,234.8 L1344.2,233.6 L1345.0,232.6 L1345.8,231.6 L1346.6,230.6 L1347.4,229.7 L1348.3,228.9 L1349.1,228.0 L1349.9,227.2 L1350.8,226.4 L1351.7,225.6 L1352.5,224.8 L1353.4,224.1 L1354.3,223.4 L1355.2,222.6 L1356.1,221.9 L1357.0,221.3 L1357.9,220.6 L1358.9,219.9 L1359.8,219.3 L1360.8,218.6 L1361.7,218.0 L1362.7,217.4 L1363.7,216.8 L1364.7,216.2 L1365.7,215.6 L1366.7,215.0 L1367.7,214.4 L1368.7,213.8 L1369.7,213.2 L1370.8,212.7 L1371.8,212.1 L1372.9,211.6 L1373.9,211.0 L1375.0,210.5 L1376.1,209.9 L1377.1,209.4 L1378.2,208.9 L1379.3,208.4 L1380.5,207.9 L1381.6,207.4 L1382.7,206.9 L1383.8,206.4 L1385.0,205.9 L1386.1,205.4 L1387.3,205.0 L1388.5,204.5 L1389.6,204.0 L1390.8,203.6 L1392.0,203.1 L1393.2,202.6 L1394.4,202.2 L1395.6,201.8 L1396.8,201.3 L1398.1,200.9 L1399.3,200.5 L1400.5,200.0 L1401.8,199.6 L1403.1,199.2 L1404.3,198.8 L1405.6,198.4 L1406.9,198.0 L1408.2,197.6 L1409.5,197.2 L1410.8,196.8 L1412.1,196.4 L1413.4,196.0 L1414.7,195.6 L1416.1,195.2 L1417.4,194.8 L1418.8,194.5 L1420.1,194.1 L1421.5,193.7 L1422.9,193.4 L1424.2,193.0 L1425.6,192.6 L1427.0,192.3 L1428.4,191.9 L1429.8,191.6 L1431.3,191.2 L1432.7,190.9 L1434.1,190.5 L1435.6,190.2 L1437.0,189.8 L1438.5,189.5 L1439.9,189.2 L1441.4,188.8 L1442.9,188.5 L1444.3,188.2 L1445.8,187.8 L1447.3,187.5 L1448.8,187.2 L1450.3,186.9 L1451.9,186.5 L1453.4,186.2 L1454.9,185.9 L1456.4,185.6 L1458.0,185.3 L1459.5,185.0 L1461.1,184.7 L1462.7,184.4 L1464.2,184.1 L1465.8,183.8 L1467.4,183.5 L1469.0,183.2 L1470.6,182.9 L1472.2,182.6 L1473.8,182.3 L1475.5,182.0 L1477.1,181.7 L1478.7,181.4 L1480.4,181.2 L1482.0,180.9 L1483.7,180.6 L1485.3,180.3 L1487.0,180.0 L1488.7,179.8 L1490.4,179.5 L1492.1,179.2 L1493.8,179.0 L1495.5,178.7 L1497.2,178.4 L1498.9,178.2 L1500.6,177.9 L1502.3,177.7 L1504.1,177.4 L1505.8,177.1 L1507.6,176.9 L1509.3,176.6 L1511.1,176.4 L1512.9,176.1 L1514.6,175.9 L1516.4,175.7 L1518.2,175.4 L1520.0,175.2 L1521.8,174.9 L1523.6,174.7 L1525.4,174.5 L1527.3,174.2 L1529.1,174.0 L1530.9,173.8 L1532.8,173.5 L1534.6,173.3 L1536.5,173.1 L1538.3,172.9 L1540.2,172.7 L1542.1,172.4 L1544.0,172.2 L1545.9,172.0 L1547.8,171.8 L1549.7,171.6 L1551.6,171.4 L1553.5,171.2 L1555.4,171.0 L1557.3,170.8 L1559.3,170.6 L1561.2,170.4 L1563.1,170.2 L1565.1,170.0 L1567.1,169.8 L1569.0,169.6 L1571.0,169.4 L1573.0,169.2 L1575.0,169.0 L1576.9,168.8 L1578.9,168.6 L1580.9,168.4 L1583.0,168.2 L1585.0,168.1 L1587.0,167.9 L1589.0,167.7 L1591.1,167.5 L1593.1,167.3 L1595.1,167.2 L1597.2,167.0 L1599.3,166.8 L1601.3,166.7 L1603.4,166.5 L1605.5,166.3 L1607.5,166.2 L1609.6,166.0 L1611.7,165.8 L1613.8,165.7 L1615.9,165.5 L1618.1,165.3 L1620.2,165.2 L1622.3,165.0 L1624.4,164.9 L1626.6,164.7 L1628.7,164.6 L1630.9,164.4 L1633.0,164.3 L1635.2,164.1" stroke="#0000ff"/>
<path d="M999.2,493.1 L1001.4,492.9 L1003.5,492.6 L1005.7,492.4 L1007.8,492.2 L1010.0,492.0 L1012.1,491.8 L1014.2,491.5 L1016.3,491.3 L1018.5,491.1 L1020.6,490.9 L1022.7,490.7 L1024.8,490.4 L1026.9,490.2 L1028.9,490.0 L1031.0,489.8 L1033.1,489.5 L1035.1,489.3 L1037.2,489.1 L1039.3,488.8 L1041.3,488.6 L1043.3,488.4 L1045.4,488.2 L1047.4,487.9 L1049.4,487.7 L1051.4,487.5 L1053.5,487.2 L1055.5,487.0 L1057.5,486.8 L1059.4,486.5 L1061.4,486.3 L1063.4,486.1 L1065.4,485.8 L1067.3,485.6 L1069.3,485.4 L1071.3,485.1 L1073.2,484.9 L1075.1,484.6 L1077.1,484.4 L1079.0,484.2 L1080.9,483.9 L1082.8,483.7 L1084.7,483.4 L1086.6,483.2 L1088.5,482.9 L1090.4,482.7 L1092.3,482.4 L1094.2,482.2 L1096.1,481.9 L1097.9,481.7 L1099.8,481.4 L1101.6,481.2 L1103.5,480.9 L1105.3,480.6 L1107.1,480.4 L1109.0,480.1 L1110.8,479.9 L1112.6,479.6 L1114.4,479.3 L1116.2,479.0 L1118.0,478.8 L1119.8,478.5 L1121.5,478.2 L1123.3,478.0 L1125.1,477.7 L1126.8,477.4 L1128.6,477.1 L1130.3,476.8 L1132.1,476.6 L1133.8,476.3 L1135.5,476.0 L1137.2,475.7 L1138.9,475.4 L1140.6,475.1 L1142.3,474.8 L1144.0,474.5 L1145.7,474.2 L1147.4,473.9 L1149.1,473.6 L1150.7,473.3 L1152.4,473.0 L1154.0,472.6 L1155.7,472.3 L1157.3,472.0 L1158.9,471.7 L1160.6,471.3 L1162.2,471.0 L1163.8,470.7 L1165.4,470.3 L1167.0,470.0 L1168.6,469.6 L1170.2,469.3 L1171.7,468.9 L1173.3,468.6 L1174.9,468.2 L1176.4,467.9 L1178.0,467.5 L1179.5,467.1 L1181.0,466.7 L1182.5,466.4 L1184.1,466.0 L1185.6,465.6 L1187.1,465.2 L1188.6,464.8 L1190.1,464.4 L1191.5,464.0 L1193.0,463.5 L1194.5,463.1 L1195.9,462.7 L1197.4,462.3 L1198.8,461.8 L1200.3,461.4 L1201.7,460.9 L1203.1,460.5 L1204.6,460.0 L1206.0,459.5 L1207.4,459.0 L1208.8,458.6 L1210.2,458.1 L1211.5,457.6 L1212.9,457.1 L1214.3,456.5 L1215.6,456.0 L1217.0,455.5 L1218.3,454.9 L1219.7,454.4 L1221.0,453.8 L1222.3,453.3 L1223.6,452.7 L1224.9,452.1 L1226.2,451.5 L1227.5,450.9 L1228.8,450.3 L1230.1,449.6 L1231.3,449.0 L1232.6,448.4 L1233.9,447.7 L1235.1,447.0 L1236.3,446.3 L1237.6,445.6 L1238.8,444.9 L1240.0,444.2 L1241.2,443.4 L1242.4,442.7 L1243.6,441.9 L1244.8,441.1 L1245.9,440.3 L1247.1,439.5 L1248.3,438.6 L1249.4,437.8 L1250.6,436.9 L1251.7,436.0 L1252.8,435.1 L1253.9,434.2 L1255.1,433.2 L1256.2,432.3 L1257.3,431.3 L1258.3,430.3 L1259.4,429.2 L1260.5,428.2 L1261.5,427.1 L1262.6,426.0 L1263.6,424.9 L1264.7,423.7 L1265.7,422.6 L1266.7,421.4 L1267.7,420.2 L1268.7,418.9 L1269.7,417.7 L1270.7,416.4 L1271.7,415.0 L1272.7,413.7 L1273.6,412.3 L1274.6,410.9 L1275.5,409.5 L1276.5,408.0 L1277.4,406.6 L1278.3,405.0 L1279.2,403.5 L1280.1,401.9 L1281.0,400.3 L1281.9,398.7 L1282.7,397.0 L1283.6,395.3 L1284.5,393.6 L1285.3,391.8 L1286.1,390.0 L1287.0,388.2 L1287.8,386.4 L1288.6,384.5 L1289.4,382.6 L1290.2,380.6 L1291.0,378.6 L1291.7,376.6 L1292.5,374.6 L1293.3,372.5 L1294.0,370.4 L1294.7,368.3 L1295.4,366.1 L1296.2,364.0 L1296.9,361.8 L1297.6,359.6 L1298.2,357.4 L1298.9,355.2 L1299.6,353.0 L1300.2,350.7 L1300.9,348.5 L1301.5,346.3 L1302.1,344.1 L1302.7,341.9 L1303.3,339.7 L1303.9,337.6 L1304.5,335.4 L1305.1,333.3 L1305.6,331.2 L1306.2,329.1 L1306.7,327.1 L1307.3,325.1 L1307.8,323.2 L1308.3,321.3 L1308.8,319.4 L1309.2,317.6 L1309.7,315.8 L1310.2,314.1 L1310.6,312.4 L1311.0,310.8 L1311.5,309.2 L1311.9,307.7 L1312.3,306.2 L1312.7,304.8 L1313.0,303.4 L1313.4,302.1 L1313.7,300.9 L1314.1,299.7 L1314.4,298.6 L1314.7,297.5 L1315.0,296.5 L1315.2,295.5 L1315.5,294.6 L1315.7,293.8 L1316.0,293.0 L1316.2,292.3 L1316.4,291.6 L1316.6,291.0 L1316.7,290.5 L1316.9,290.0 L1317.0,289.6 L1317.1,289.3 L1317.1,289.1 L1317.2,288.9 L1317.2,288.9 L1317.3,288.7 L1317.3,288.5 L1317.4,288.2 L1317.5,287.8 L1317.7,287.3 L1317.8,286.8 L1318.0,286.2 L1318.2,285.6 L1318.4,285.0 L1318.7,284.2 L1318.9,283.5 L1319.2,282.7 L1319.4,281.9 L1319.7,281.0 L1320.0,280.1 L1320.3,279.2 L1320.7,278.2 L1321.0,277.3 L1321.4,276.2 L1321.7,275.2 L1322.1,274.2 L1322.5,273.1 L1322.9,272.0 L1323.4,270.9 L1323.8,269.8 L1324.2,268.7 L1324.7,267.5 L1325.2,266.4 L1325.6,265.2 L1326.1,264.0 L1326.6,262.8 L1327.1,261.7 L1327.7,260.5 L1328.2,259.3 L1328.8,258.1 L1329.3,256.8 L1329.9,255.6 L1330.5,254.4 L1331.1,253.2 L1331.7,252.0 L1332.3,250.8 L1332.9,249.6 L1333.5,248.4 L1334.2,247.2 L1334.8,246.0 L1335.5,244.9 L1336.2,243.7 L1336.8,242.5 L1337.5,241.4 L1338.2,240.2 L1339.0,239.1 L1339.7,237.9 L1340.4,236.8 L1341.1,235.7 L1341.9,234.6 L1342.7,233.5 L1343.4,232.4 L1344.2,231.3 L1345.0,230.3 L1345.8,229.2 L1346.6,228.2 L1347.4,227.1 L1348.3,226.1 L1349.1,225.1 L1349.9,224.1 L1350.8,223.1 L1351.7,222.1 L1352.5,221.1 L1353.4,220.1 L1354.3,219.1 L1355.2,218.2 L1356.1,217.2 L1357.0,216.3 L1357.9,215.4 L1358.9,214.4 L1359.8,213.5 L1360.8,212.6 L1361.7,211.8 L1362.7,210.9 L1363.7,210.0 L1364.7,209.2 L1365.7,208.3 L1366.7,207.5 L1367.7,206.7 L1368.7,205.9 L1369.7,205.1 L1370.8,204.3 L1371.8,203.5 L1372.9,202.8 L1373.9,202.1 L1375.0,201.3 L1376.1,200.6 L1377.1,199.9 L1378.2,199.2 L1379.3,198.6 L1380.5,197.9 L1381.6,197.2 L1382.7,196.6 L1383.8,196.0 L1385.0,195.4 L1386.1,194.8 L1387.3,194.2 L1388.5,193.6 L1389.6,193.1 L1390.8,192.5 L1392.0,192.0 L1393.2,191.4 L1394.4,190.9 L1395.6,190.4 L1396.8,189.9 L1398.1,189.5 L1399.3,189.0 L1400.5,188.5 L1401.8,188.1 L1403.1,187.7 L1404.3,187.3 L1405.6,186.8 L1406.9,186.5 L1408.2,186.1 L1409.5,185.7 L1410.8,185.3 L1412.1,185.0 L1413.4,184.6 L1414.7,184.3 L1416.1,184.0 L1417.4,183.6 L1418.8,183.3 L1420.1,183.0 L1421.5,182.7 L1422.9,182.4 L1424.2,182.2 L1425.6,181.9 L1427.0,181.6 L1428.4,181.4 L1429.8,181.1 L1431.3,180.9 L1432.7,180.6 L1434.1,180.4 L1435.6,180.2 L1437.0,179.9 L1438.5,179.7 L1439.9,179.5 L1441.4,179.3 L1442.9,179.1 L1444.3,178.9 L1445.8,178.7 L1447.3,178.5 L1448.8,178.3 L1450.3,178.1 L1451.9,177.9 L1453.4,177.7 L1454.9,177.6 L1456.4,177.4 L1458.0,177.2 L1459.5,177.0 L1461.1,176.9 L1462.7,176.7 L1464.2,176.6 L1465.8,176.4 L1467.4,176.2 L1469.0,176.1 L1470.6,175.9 L1472.2,175.8 L1473.8,175.7 L1475.5,175.5 L1477.1,175.4 L1478.7,175.2 L1480.4,175.1 L1482.0,174.9 L1483.7,174.8 L1485.3,174.7 L1487.0,174.5 L1488.7,174.4 L1490.4,174.3 L1492.1,174.1 L1493.8,174.0 L1495.5,173.9 L1497.2,173.8 L1498.9,173.6 L1500.6,173.5 L1502.3,173.4 L1504.1,173.3 L1505.8,173.1 L1507.6,173.0 L1509.3,172.9 L1511.1,172.8 L1512.9,172.7 L1514.6,172.5 L1516.4,172.4 L1518.2,172.3 L1520.0,172.2 L1521.8,172.1 L1523.6,171.9 L1525.4,171.8 L1527.3,171.7 L1529.1,171.6 L1530.9,171.5 L1532.8,171.3 L1534.6,171.2 L1536.5,171.1 L1538.3,171.0 L1540.2,170.9 L1542.1,170.8 L1544.0,170.6 L1545.9,170.5 L1547.8,170.4 L1549.7,170.3 L1551.6,170.2 L1553.5,170.0 L1555.4,169.9 L1557.3,169.8 L1559.3,169.7 L1561.2,169.6 L1563.1,169.4 L1565.1,169.3 L1567.1,169.2 L1569.0,169.1 L1571.0,168.9 L1573.0,168.8 L1575.0,168.7 L1576.9,168.6 L1578.9,168.4 L1580.9,168.3 L1583.0,168.2 L1585.0,168.1 L1587.0,167.9 L1589.0,167.8 L1591.1,167.7 L1593.1,167.6 L1595.1,167.4 L1597.2,167.3 L1599.3,167.2 L1601.3,167.0 L1603.4,166.9 L1605.5,166.8 L1607.5,166.6 L1609.6,166.5 L1611.7,166.4 L1613.8,166.2 L1615.9,166.1 L1618.1,166.0 L1620.2,165.8 L1622.3,165.7 L1624.4,165.5 L1626.6,165.4 L1628.7,165.3 L1630.9,165.1 L1633.0,165.0 L1635.2,164.8" stroke="#ff0000"/>
<path d="M999.2,496.4 L1001.4,496.3 L1003.5,496.3 L1005.7,496.2 L1007.8,496.1 L1010.0,496.1 L1012.1,496.0 L1014.2,495.9 L1016.3,495.8 L1018.5,495.8 L1020.6,495.7 L1022.7,495.6 L1024.8,495.5 L1026.9,495.4 L1028.9,495.4 L1031.0,495.3 L1033.1,495.2 L1035.1,495.1 L1037.2,495.0 L1039.3,494.9 L1041.3,494.8 L1043.3,494.7 L1045.4,494.6 L1047.4,494.5 L1049.4,494.4 L1051.4,494.3 L1053.5,494.2 L1055.5,494.1 L1057.5,494.0 L1059.4,493.9 L1061.4,493.8 L1063.4,493.7 L1065.4,493.6 L1067.3,493.5 L1069.3,493.4 L1071.3,493.3 L1073.2,493.2 L1075.1,493.0 L1077.1,492.9 L1079.0,492.8 L1080.9,492.7 L1082.8,492.6 L1084.7,492.4 L1086.6,492.3 L1088.5,492.2 L1090.4,492.0 L1092.3,491.9 L1094.2,491.8 L1096.1,491.6 L1097.9,491.5 L1099.8,491.4 L1101.6,491.2 L1103.5,491.1 L1105.3,490.9 L1107.1,490.8 L1109.0,490.6 L1110.8,490.5 L1112.6,490.3 L1114.4,490.2 L1116.2,490.0 L1118.0,489.8 L1119.8,489.7 L1121.5,489.5 L1123.3,489.3 L1125.1,489.2 L1126.8,489.0 L1128.6,488.8 L1130.3,488.6 L1132.1,488.5 L1133.8,488.3 L1135.5,488.1 L1137.2,487.9 L1138.9,487.7 L1140.6,487.5 L1142.3,487.3 L1144.0,487.1 L1145.7,486.9 L1147.4,486.7 L1149.1,486.5 L1150.7,486.3 L1152.4,486.1 L1154.0,485.9 L1155.7,485.7 L1157.3,485.4 L1158.9,485.2 L1160.6,485.0 L1162.2,484.8 L1163.8,484.5 L1165.4,484.3 L1167.0,484.0 L1168.6,483.8 L1170.2,483.6 L1171.7,483.3 L1173.3,483.1 L1174.9,482.8 L1176.4,482.5 L1178.0,482.3 L1179.5,482.0 L1181.0,481.7 L1182.5,481.5 L1184.1,481.2 L1185.6,480.9 L1187.1,480.6 L1188.6,480.3 L1190.1,480.0 L1191.5,479.7 L1193.0,479.4 L1194.5,479.1 L1195.9,478.8 L1197.4,478.5 L1198.8,478.2 L1200.3,477.9 L1201.7,477.6 L1203.1,477.2 L1204.6,476.9 L1206.0,476.5 L1207.4,476.2 L1208.8,475.9 L1210.2,475.5 L1211.5,475.1 L1212.9,474.8 L1214.3,474.4 L1215.6,474.0 L1217.0,473.7 L1218.3,473.3 L1219.7,472.9 L1221.0,472.5 L1222.3,472.1 L1223.6,471.7 L1224.9,471.3 L1226.2,470.8 L1227.5,470.4 L1228.8,470.0 L1230.1,469.6 L1231.3,469.1 L1232.6,468.7 L1233.9,468.2 L1235.1,467.7 L1236.3,467.3 L1237.6,466.8 L1238.8,466.3 L1240.0,465.8 L1241.2,465.3 L1242.4,464.8 L1243.6,464.3 L1244.8,463.8 L1245.9,463.3 L1247.1,462.7 L1248.3,462.2 L1249.4,461.7 L1250.6,461.1 L1251.7,460.5 L1252.8,460.0 L1253.9,459.4 L1255.1,458.8 L1256.2,458.2 L1257.3,457.6 L1258.3,457.0 L1259.4,456.3 L1260.5,455.7 L1261.5,455.1 L1262.6,454.4 L1263.6,453.7 L1264.7,453.1 L1265.7,452.4 L1266.7,451.7 L1267.7,451.0 L1268.7,450.3 L1269.7,449.6 L1270.7,448.8 L1271.7,448.1 L1272.7,447.3 L1273.6,446.6 L1274.6,445.8 L1275.5,445.0 L1276.5,444.2 L1277.4,443.4 L1278.3,442.5 L1279.2,441.7 L1280.1,440.8 L1281.0,440.0 L1281.9,439.1 L1282.7,438.2 L1283.6,437.3 L1284.5,436.4 L1285.3,435.4 L1286.1,434.5 L1287.0,433.5 L1287.8,432.5 L1288.6,431.6 L1289.4,430.5 L1290.2,429.5 L1291.0,428.5 L1291.7,427.4 L1292.5,426.3 L1293.3,425.2 L1294.0,424.1 L1294.7,423.0 L1295.4,421.9 L1296.2,420.7 L1296.9,419.6 L1297.6,418.4 L1298.2,417.2 L1298.9,416.0 L1299.6,414.8 L1300.2,413.5 L1300.9,412.3 L1301.5,411.0 L1302.1,409.7 L1302.7,408.5 L1303.3,407.2 L1303.9,405.9 L1304.5,404.6 L1305.1,403.3 L1305.6,402.0 L1306.2,400.6 L1306.7,399.3 L1307.3,398.0 L1307.8,396.7 L1308.3,395.4 L1308.8,394.1 L1309.2,392.8 L1309.7,391.5 L1310.2,390.3 L1310.6,389.0 L1311.0,387.8 L1311.5,386.5 L1311.9,385.3 L1312.3,384.1 L1312.7,383.0 L1313.0,381.8 L1313.4,380.7 L1313.7,379.7 L1314.1,378.6 L1314.4,377.6 L1314.7,376.6 L1315.0,375.7 L1315.2,374.8 L1315.5,373.9 L1315.7,373.1 L1316.0,372.4 L1316.2,371.7 L1316.4,371.0 L1316.6,370.4 L1316.7,369.9 L1316.9,369.4 L1317.0,369.0 L1317.1,368.6 L1317.1,368.4 L1317.2,368.2 L1317.2,368.2 L1317.3,368.0 L1317.3,367.8 L1317.4,367.4 L1317.5,367.0 L1317.7,366.5 L1317.8,366.0 L1318.0,365.4 L1318.2,364.7 L1318.4,363.9 L1318.7,363.1 L1318.9,362.3 L1319.2,361.3 L1319.4,360.3 L1319.7,359.3 L1320.0,358.2 L1320.3,357.1 L1320.7,355.9 L1321.0,354.6 L1321.4,353.3 L1321.7,351.9 L1322.1,350.5 L1322.5,349.0 L1322.9,347.5 L1323.4,345.9 L1323.8,344.2 L1324.2,342.6 L1324.7,340.8 L1325.2,339.1 L1325.6,337.2 L1326.1,335.4 L1326.6,333.5 L1327.1,331.5 L1327.7,329.6 L1328.2,327.5 L1328.8,325.5 L1329.3,323.5 L1329.9,321.4 L1330.5,319.3 L1331.1,317.1 L1331.7,315.0 L1332.3,312.9 L1332.9,310.7 L1333.5,308.5 L1334.2,306.4 L1334.8,304.2 L1335.5,302.0 L1336.2,299.9 L1336.8,297.7 L1337.5,295.6 L1338.2,293.4 L1339.0,291.3 L1339.7,289.2 L1340.4,287.1 L1341.1,285.1 L1341.9,283.0 L1342.7,281.0 L1343.4,279.0 L1344.2,277.1 L1345.0,275.1 L1345.8,273.2 L1346.6,271.3 L1347.4,269.5 L1348.3,267.7 L1349.1,265.9 L1349.9,264.1 L1350.8,262.4 L1351.7,260.7 L1352.5,259.0 L1353.4,257.4 L1354.3,255.8 L1355.2,254.2 L1356.1,252.6 L1357.0,251.1 L1357.9,249.6 L1358.9,248.1 L1359.8,246.6 L1360.8,245.2 L1361.7,243.8 L1362.7,242.5 L1363.7,241.1 L1364.7,239.8 L1365.7,238.5 L1366.7,237.2 L1367.7,236.0 L1368.7,234.8 L1369.7,233.6 L1370.8,232.4 L1371.8,231.3 L1372.9,230.2 L1373.9,229.1 L1375.0,228.0 L1376.1,226.9 L1377.1,225.9 L1378.2,224.9 L1379.3,223.9 L1380.5,222.9 L1381.6,222.0 L1382.7,221.0 L1383.8,220.1 L1385.0,219.2 L1386.1,218.3 L1387.3,217.5 L1388.5,216.6 L1389.6,215.8 L1390.8,215.0 L1392.0,214.2 L1393.2,213.4 L1394.4,212.7 L1395.6,211.9 L1396.8,211.2 L1398.1,210.5 L1399.3,209.8 L1400.5,209.1 L1401.8,208.4 L1403.1,207.7 L1404.3,207.1 L1405.6,206.4 L1406.9,205.8 L1408.2,205.2 L1409.5,204.6 L1410.8,204.0 L1412.1,203.4 L1413.4,202.8 L1414.7,202.2 L1416.1,201.7 L1417.4,201.1 L1418.8,200.6 L1420.1,200.1 L1421.5,199.5 L1422.9,199.0 L1424.2,198.5 L1425.6,198.0 L1427.0,197.5 L1428.4,197.1 L1429.8,196.6 L1431.3,196.1 L1432.7,195.7 L1434.1,195.2 L1435.6,194.8 L1437.0,194.3 L1438.5,193.9 L1439.9,193.5 L1441.4,193.1 L1442.9,192.7 L1444.3,192.3 L1445.8,191.9 L1447.3,191.5 L1448.8,191.1 L1450.3,190.7 L1451.9,190.3 L1453.4,190.0 L1454.9,189.6 L1456.4,189.2 L1458.0,188.9 L1459.5,188.5 L1461.1,188.2 L1462.7,187.8 L1464.2,187.5 L1465.8,187.2 L1467.4,186.8 L1469.0,186.5 L1470.6,186.2 L1472.2,185.9 L1473.8,185.6 L1475.5,185.3 L1477.1,185.0 L1478.7,184.7 L1480.4,184.4 L1482.0,184.1 L1483.7,183.8 L1485.3,183.5 L1487.0,183.2 L1488.7,182.9 L1490.4,182.7 L1492.1,182.4 L1493.8,182.1 L1495.5,181.9 L1497.2,181.6 L1498.9,181.3 L1500.6,181.1 L1502.3,180.8 L1504.1,180.6 L1505.8,180.3 L1507.6,180.1 L1509.3,179.8 L1511.1,179.6 L1512.9,179.3 L1514.6,179.1 L1516.4,178.9 L1518.2,178.6 L1520.0,178.4 L1521.8,178.2 L1523.6,178.0 L1525.4,177.7 L1527.3,177.5 L1529.1,177.3 L1530.9,177.1 L1532.8,176.9 L1534.6,176.6 L1536.5,176.4 L1538.3,176.2 L1540.2,176.0 L1542.1,175.8 L1544.0,175.6 L1545.9,175.4 L1547.8,175.2 L1549.7,175.0 L1551.6,174.8 L1553.5,174.6 L1555.4,174.4 L1557.3,174.2 L1559.3,174.0 L1561.2,173.8 L1563.1,173.6 L1565.1,173.5 L1567.1,173.3 L1569.0,173.1 L1571.0,172.9 L1573.0,172.7 L1575.0,172.5 L1576.9,172.4 L1578.9,172.2 L1580.9,172.0 L1583.0,171.8 L1585.0,171.7 L1587.0,171.5 L1589.0,171.3 L1591.1,171.1 L1593.1,171.0 L1595.1,170.8 L1597.2,170.6 L1599.3,170.5 L1601.3,170.3 L1603.4,170.1 L1605.5,170.0 L1607.5,169.8 L1609.6,169.6 L1611.7,169.5 L1613.8,169.3 L1615.9,169.2 L1618.1,169.0 L1620.2,168.8 L1622.3,168.7 L1624.4,168.5 L1626.6,168.4 L1628.7,168.2 L1630.9,168.1 L1633.0,167.9 L1635.2,167.8" stroke="#ff0000"/>
</g>
<rect x="999" y="74.2" width="636" height="515.4" fill="none" stroke="#000" stroke-width="3.7"/>
<path d="M1052.2,74.2 v4.7 M1052.2,589.6 v-4.7 M1105.2,74.2 v9.3 M1105.2,589.6 v-9.3 M1158.2,74.2 v4.7 M1158.2,589.6 v-4.7 M1211.2,74.2 v9.3 M1211.2,589.6 v-9.3 M1264.2,74.2 v4.7 M1264.2,589.6 v-4.7 M1370.2,74.2 v4.7 M1370.2,589.6 v-4.7 M1423.2,74.2 v9.3 M1423.2,589.6 v-9.3 M1476.2,74.2 v4.7 M1476.2,589.6 v-4.7 M1529.2,74.2 v9.3 M1529.2,589.6 v-9.3 M1582.2,74.2 v4.7 M1582.2,589.6 v-4.7 M999,525.2 h4.7 M1635,525.2 h-4.7 M999,460.8 h9.3 M1635,460.8 h-9.3 M999,396.3 h4.7 M1635,396.3 h-4.7 M999,267.5 h4.7 M1635,267.5 h-4.7 M999,203.1 h9.3 M1635,203.1 h-9.3 M999,138.6 h4.7 M1635,138.6 h-4.7" stroke="#000" stroke-width="3.6" stroke-linecap="butt" fill="none"/>
<g font-family='"Liberation Serif", serif' font-size="33.5" fill="#000">
<text x="999.2" y="625.3" text-anchor="middle">-30</text>
<text x="1105.2" y="625.3" text-anchor="middle">-20</text>
<text x="1211.2" y="625.3" text-anchor="middle">-10</text>
<text x="1317.2" y="625.3" text-anchor="middle">0</text>
<text x="1423.2" y="625.3" text-anchor="middle">10</text>
<text x="1529.2" y="625.3" text-anchor="middle">20</text>
<text x="1635.2" y="625.3" text-anchor="middle">30</text>
<text x="988.7" y="84.8" text-anchor="end">1.0</text>
<text x="988.7" y="213.7" text-anchor="end">0.5</text>
<text x="988.7" y="342.5" text-anchor="end">0.0</text>
<text x="988.7" y="471.4" text-anchor="end">-0.5</text>
<text x="988.7" y="600.2" text-anchor="end">-1.0</text>
</g>
<text transform="translate(920,308.8) rotate(-90)" text-anchor="middle" font-family='"Liberation Serif", serif' font-size="42.3" fill="#000">Magnetization (×10<tspan font-size="26.5" dy="-18.5">6</tspan><tspan dy="18.5"> A/m)</tspan></text>
<text x="1217.2" y="683.2" font-family='"Liberation Serif", serif' font-size="44" fill="#000"><tspan font-style="italic">μ</tspan><tspan font-style="italic" font-size="26" dx="3.5" dy="10.6">0</tspan><tspan font-style="italic" dx="-0.5" dy="-10.6">H</tspan><tspan font-size="42.7" dx="-0.6"> (mT)</tspan></text>
<text x="1318" y="54" text-anchor="middle" font-family='"Liberation Serif", serif' font-size="33" fill="#000">FeGa (<tspan font-weight="bold">20 nm</tspan>)/Kapton</text>
<text x="820.5" y="51.3" font-family='"Liberation Serif", serif' font-size="54.5" font-weight="bold" fill="#000">(b)</text>
<rect x="1049.5" y="107.5" width="85.5" height="67" rx="1.5" fill="#fff" stroke="#5a5a5a" stroke-width="1.2"/>
<path d="M1050,124 H1113.4" stroke="#0000ff" stroke-width="6" stroke-linecap="round"/>
<path d="M1050,159.3 H1113.4" stroke="#ff0000" stroke-width="6" stroke-linecap="round"/>
<text x="1119.6" y="133.7" font-family='"Liberation Serif", serif' font-size="30" fill="#000">x</text>
<text x="1119.6" y="169" font-family='"Liberation Serif", serif' font-size="30" fill="#000">y</text>
<rect x="1385.2" y="341" width="232.1" height="190.3" fill="#fff"/>
<clipPath id="iclipb"><rect x="1385.2" y="341" width="232.1" height="190.3"/></clipPath>
<path d="M1385.2,436.2 H1617.3 M1500.6,341 V531.3" stroke="#000" stroke-width="1.2" fill="none"/>
<g clip-path="url(#iclipb)" fill="none" stroke-linejoin="round" stroke-width="3.9">
<path d="M1379.8,490.6 L1380.7,490.5 L1381.6,490.4 L1382.4,490.3 L1383.3,490.2 L1384.1,490.1 L1385.0,490.0 L1385.8,489.9 L1386.6,489.9 L1387.5,489.8 L1388.3,489.7 L1389.1,489.6 L1390.0,489.5 L1390.8,489.4 L1391.6,489.3 L1392.5,489.2 L1393.3,489.1 L1394.1,489.0 L1394.9,488.9 L1395.7,488.8 L1396.5,488.7 L1397.3,488.6 L1398.2,488.5 L1399.0,488.4 L1399.8,488.3 L1400.6,488.2 L1401.4,488.1 L1402.1,488.0 L1402.9,487.9 L1403.7,487.8 L1404.5,487.7 L1405.3,487.6 L1406.1,487.5 L1406.8,487.4 L1407.6,487.3 L1408.4,487.2 L1409.2,487.1 L1409.9,487.0 L1410.7,486.9 L1411.5,486.8 L1412.2,486.7 L1413.0,486.6 L1413.7,486.5 L1414.5,486.4 L1415.2,486.3 L1416.0,486.2 L1416.7,486.1 L1417.4,485.9 L1418.2,485.8 L1418.9,485.7 L1419.6,485.6 L1420.4,485.5 L1421.1,485.4 L1421.8,485.3 L1422.5,485.2 L1423.3,485.0 L1424.0,484.9 L1424.7,484.8 L1425.4,484.7 L1426.1,484.6 L1426.8,484.4 L1427.5,484.3 L1428.2,484.2 L1428.9,484.1 L1429.6,484.0 L1430.3,483.8 L1431.0,483.7 L1431.7,483.6 L1432.3,483.4 L1433.0,483.3 L1433.7,483.2 L1434.4,483.0 L1435.0,482.9 L1435.7,482.8 L1436.4,482.6 L1437.0,482.5 L1437.7,482.3 L1438.4,482.2 L1439.0,482.0 L1439.7,481.9 L1440.3,481.7 L1441.0,481.6 L1441.6,481.4 L1442.2,481.2 L1442.9,481.1 L1443.5,480.9 L1444.1,480.7 L1444.8,480.5 L1445.4,480.3 L1446.0,480.1 L1446.6,479.9 L1447.2,479.7 L1447.9,479.5 L1448.5,479.3 L1449.1,479.0 L1449.7,478.8 L1450.3,478.6 L1450.9,478.3 L1451.5,478.1 L1452.1,477.8 L1452.7,477.5 L1453.2,477.3 L1453.8,477.0 L1454.4,476.7 L1455.0,476.4 L1455.6,476.1 L1456.1,475.7 L1456.7,475.4 L1457.3,475.1 L1457.8,474.7 L1458.4,474.3 L1459.0,473.9 L1459.5,473.5 L1460.1,473.0 L1460.6,472.6 L1461.2,472.1 L1461.7,471.6 L1462.2,471.0 L1462.8,470.4 L1463.3,469.8 L1463.8,469.2 L1464.4,468.5 L1464.9,467.8 L1465.4,467.1 L1465.9,466.4 L1466.4,465.6 L1466.9,464.8 L1467.4,463.9 L1467.9,463.1 L1468.4,462.1 L1468.9,461.2 L1469.4,460.2 L1469.9,459.2 L1470.4,458.2 L1470.9,457.1 L1471.4,456.0 L1471.9,454.8 L1472.3,453.6 L1472.8,452.4 L1473.3,451.1 L1473.7,449.8 L1474.2,448.4 L1474.7,447.0 L1475.1,445.5 L1475.6,444.0 L1476.0,442.4 L1476.5,440.8 L1476.9,439.2 L1477.3,437.6 L1477.8,436.2 L1478.2,435.0 L1478.6,433.9 L1479.1,432.8 L1479.5,431.9 L1479.9,430.9 L1480.3,430.0 L1480.7,429.0 L1481.1,428.0 L1481.5,427.0 L1481.9,426.0 L1482.3,425.0 L1482.7,424.0 L1483.1,423.0 L1483.5,422.0 L1483.9,421.0 L1484.3,420.0 L1484.6,419.0 L1485.0,418.1 L1485.4,417.1 L1485.8,416.2 L1486.1,415.3 L1486.5,414.4 L1486.8,413.5 L1487.2,412.6 L1487.5,411.8 L1487.9,411.0 L1488.2,410.2 L1488.5,409.4 L1488.9,408.6 L1489.2,407.8 L1489.5,407.0 L1489.8,406.2 L1490.2,405.5 L1490.5,404.7 L1490.8,403.9 L1491.1,403.2 L1491.4,402.4 L1491.7,401.7 L1492.0,400.9 L1492.3,400.2 L1492.5,399.5 L1492.8,398.8 L1493.1,398.1 L1493.4,397.4 L1493.6,396.7 L1493.9,396.1 L1494.2,395.4 L1494.4,394.8 L1494.7,394.2 L1494.9,393.6 L1495.2,393.0 L1495.4,392.4 L1495.6,391.9 L1495.9,391.4 L1496.1,390.8 L1496.3,390.3 L1496.5,389.9 L1496.7,389.4 L1496.9,388.9 L1497.1,388.5 L1497.3,388.1 L1497.5,387.7 L1497.7,387.3 L1497.9,386.9 L1498.1,386.6 L1498.3,386.3 L1498.4,385.9 L1498.6,385.6 L1498.7,385.3 L1498.9,385.1 L1499.0,384.8 L1499.2,384.5 L1499.3,384.3 L1499.4,384.1 L1499.6,383.9 L1499.7,383.7 L1499.8,383.5 L1499.9,383.3 L1500.0,383.2 L1500.1,383.0 L1500.2,382.9 L1500.3,382.8 L1500.3,382.7 L1500.4,382.6 L1500.5,382.5 L1500.5,382.4 L1500.5,382.4 L1500.6,382.3 L1500.6,382.3 L1500.6,382.3 L1500.6,382.3 L1500.7,382.2 L1500.7,382.2 L1500.7,382.1 L1500.8,382.0 L1500.9,381.9 L1500.9,381.8 L1501.0,381.7 L1501.1,381.6 L1501.2,381.5 L1501.3,381.4 L1501.4,381.2 L1501.5,381.1 L1501.6,380.9 L1501.8,380.8 L1501.9,380.7 L1502.0,380.5 L1502.2,380.4 L1502.3,380.2 L1502.5,380.0 L1502.6,379.9 L1502.8,379.7 L1502.9,379.6 L1503.1,379.4 L1503.3,379.3 L1503.5,379.1 L1503.7,379.0 L1503.9,378.8 L1504.1,378.6 L1504.3,378.5 L1504.5,378.3 L1504.7,378.2 L1504.9,378.0 L1505.1,377.9 L1505.3,377.8 L1505.6,377.6 L1505.8,377.5 L1506.0,377.3 L1506.3,377.2 L1506.5,377.0 L1506.8,376.9 L1507.0,376.8 L1507.3,376.6 L1507.6,376.5 L1507.8,376.3 L1508.1,376.2 L1508.4,376.1 L1508.7,375.9 L1508.9,375.8 L1509.2,375.7 L1509.5,375.5 L1509.8,375.4 L1510.1,375.3 L1510.4,375.2 L1510.7,375.0 L1511.0,374.9 L1511.4,374.8 L1511.7,374.7 L1512.0,374.6 L1512.3,374.5 L1512.7,374.4 L1513.0,374.3 L1513.3,374.2 L1513.7,374.1 L1514.0,374.0 L1514.4,373.9 L1514.7,373.8 L1515.1,373.7 L1515.4,373.6 L1515.8,373.5 L1516.2,373.4 L1516.6,373.4 L1516.9,373.3 L1517.3,373.2 L1517.7,373.1 L1518.1,373.0 L1518.5,373.0 L1518.9,372.9 L1519.3,372.8 L1519.7,372.8 L1520.1,372.7 L1520.5,372.6 L1520.9,372.6 L1521.3,372.5 L1521.7,372.4 L1522.1,372.4 L1522.6,372.3 L1523.0,372.3 L1523.4,372.2 L1523.9,372.1 L1524.3,372.1 L1524.7,372.0 L1525.2,372.0 L1525.6,371.9 L1526.1,371.8 L1526.5,371.8 L1527.0,371.7 L1527.5,371.7 L1527.9,371.6 L1528.4,371.5 L1528.9,371.5 L1529.3,371.4 L1529.8,371.4 L1530.3,371.3 L1530.8,371.3 L1531.3,371.2 L1531.8,371.1 L1532.3,371.1 L1532.8,371.0 L1533.3,371.0 L1533.8,370.9 L1534.3,370.9 L1534.8,370.8 L1535.3,370.7 L1535.8,370.7 L1536.3,370.6 L1536.8,370.6 L1537.4,370.5 L1537.9,370.5 L1538.4,370.4 L1539.0,370.4 L1539.5,370.3 L1540.0,370.2 L1540.6,370.2 L1541.1,370.1 L1541.7,370.1 L1542.2,370.0 L1542.8,370.0 L1543.4,369.9 L1543.9,369.9 L1544.5,369.8 L1545.1,369.8 L1545.6,369.7 L1546.2,369.7 L1546.8,369.6 L1547.4,369.6 L1548.0,369.5 L1548.5,369.5 L1549.1,369.4 L1549.7,369.4 L1550.3,369.3 L1550.9,369.3 L1551.5,369.2 L1552.1,369.2 L1552.7,369.1 L1553.3,369.1 L1554.0,369.0 L1554.6,369.0 L1555.2,368.9 L1555.8,368.9 L1556.4,368.8 L1557.1,368.8 L1557.7,368.7 L1558.3,368.7 L1559.0,368.7 L1559.6,368.6 L1560.2,368.6 L1560.9,368.5 L1561.5,368.5 L1562.2,368.4 L1562.8,368.4 L1563.5,368.3 L1564.2,368.3 L1564.8,368.2 L1565.5,368.2 L1566.2,368.2 L1566.8,368.1 L1567.5,368.1 L1568.2,368.0 L1568.9,368.0 L1569.5,367.9 L1570.2,367.9 L1570.9,367.9 L1571.6,367.8 L1572.3,367.8 L1573.0,367.7 L1573.7,367.7 L1574.4,367.7 L1575.1,367.6 L1575.8,367.6 L1576.5,367.5 L1577.2,367.5 L1577.9,367.5 L1578.7,367.4 L1579.4,367.4 L1580.1,367.3 L1580.8,367.3 L1581.6,367.3 L1582.3,367.2 L1583.0,367.2 L1583.8,367.1 L1584.5,367.1 L1585.2,367.1 L1586.0,367.0 L1586.7,367.0 L1587.5,367.0 L1588.2,366.9 L1589.0,366.9 L1589.7,366.8 L1590.5,366.8 L1591.3,366.8 L1592.0,366.7 L1592.8,366.7 L1593.6,366.7 L1594.4,366.6 L1595.1,366.6 L1595.9,366.6 L1596.7,366.5 L1597.5,366.5 L1598.3,366.5 L1599.1,366.4 L1599.8,366.4 L1600.6,366.4 L1601.4,366.3 L1602.2,366.3 L1603.0,366.2 L1603.9,366.2 L1604.7,366.2 L1605.5,366.1 L1606.3,366.1 L1607.1,366.1 L1607.9,366.0 L1608.7,366.0 L1609.6,366.0 L1610.4,365.9 L1611.2,365.9 L1612.1,365.9 L1612.9,365.8 L1613.7,365.8 L1614.6,365.8 L1615.4,365.8 L1616.2,365.7 L1617.1,365.7 L1617.9,365.7 L1618.8,365.6 L1619.6,365.6 L1620.5,365.6 L1621.4,365.5" stroke="#0000ff"/>
<path d="M1379.8,505.1 L1380.7,505.1 L1381.6,505.1 L1382.4,505.0 L1383.3,505.0 L1384.1,505.0 L1385.0,505.0 L1385.8,504.9 L1386.6,504.9 L1387.5,504.9 L1388.3,504.8 L1389.1,504.8 L1390.0,504.8 L1390.8,504.7 L1391.6,504.7 L1392.5,504.7 L1393.3,504.6 L1394.1,504.6 L1394.9,504.6 L1395.7,504.5 L1396.5,504.5 L1397.3,504.5 L1398.2,504.4 L1399.0,504.4 L1399.8,504.4 L1400.6,504.3 L1401.4,504.3 L1402.1,504.3 L1402.9,504.2 L1403.7,504.2 L1404.5,504.2 L1405.3,504.1 L1406.1,504.1 L1406.8,504.1 L1407.6,504.0 L1408.4,504.0 L1409.2,504.0 L1409.9,503.9 L1410.7,503.9 L1411.5,503.9 L1412.2,503.8 L1413.0,503.8 L1413.7,503.8 L1414.5,503.7 L1415.2,503.7 L1416.0,503.7 L1416.7,503.6 L1417.4,503.6 L1418.2,503.5 L1418.9,503.5 L1419.6,503.5 L1420.4,503.4 L1421.1,503.4 L1421.8,503.4 L1422.5,503.3 L1423.3,503.3 L1424.0,503.3 L1424.7,503.2 L1425.4,503.2 L1426.1,503.1 L1426.8,503.1 L1427.5,503.1 L1428.2,503.0 L1428.9,503.0 L1429.6,503.0 L1430.3,502.9 L1431.0,502.9 L1431.7,502.8 L1432.3,502.8 L1433.0,502.8 L1433.7,502.7 L1434.4,502.7 L1435.0,502.6 L1435.7,502.6 L1436.4,502.6 L1437.0,502.5 L1437.7,502.5 L1438.4,502.4 L1439.0,502.4 L1439.7,502.3 L1440.3,502.3 L1441.0,502.3 L1441.6,502.2 L1442.2,502.2 L1442.9,502.1 L1443.5,502.1 L1444.1,502.0 L1444.8,502.0 L1445.4,502.0 L1446.0,501.9 L1446.6,501.9 L1447.2,501.8 L1447.9,501.8 L1448.5,501.7 L1449.1,501.7 L1449.7,501.6 L1450.3,501.6 L1450.9,501.5 L1451.5,501.5 L1452.1,501.4 L1452.7,501.4 L1453.2,501.3 L1453.8,501.3 L1454.4,501.2 L1455.0,501.2 L1455.6,501.1 L1456.1,501.1 L1456.7,501.0 L1457.3,501.0 L1457.8,500.9 L1458.4,500.9 L1459.0,500.8 L1459.5,500.7 L1460.1,500.7 L1460.6,500.6 L1461.2,500.6 L1461.7,500.5 L1462.2,500.5 L1462.8,500.4 L1463.3,500.3 L1463.8,500.3 L1464.4,500.2 L1464.9,500.2 L1465.4,500.1 L1465.9,500.0 L1466.4,500.0 L1466.9,499.9 L1467.4,499.8 L1467.9,499.8 L1468.4,499.7 L1468.9,499.7 L1469.4,499.6 L1469.9,499.5 L1470.4,499.5 L1470.9,499.4 L1471.4,499.3 L1471.9,499.2 L1472.3,499.2 L1472.8,499.1 L1473.3,499.0 L1473.7,499.0 L1474.2,498.9 L1474.7,498.8 L1475.1,498.8 L1475.6,498.7 L1476.0,498.6 L1476.5,498.5 L1476.9,498.5 L1477.3,498.4 L1477.8,498.3 L1478.2,498.2 L1478.6,498.2 L1479.1,498.1 L1479.5,498.0 L1479.9,497.9 L1480.3,497.9 L1480.7,497.8 L1481.1,497.7 L1481.5,497.6 L1481.9,497.5 L1482.3,497.4 L1482.7,497.4 L1483.1,497.3 L1483.5,497.2 L1483.9,497.1 L1484.3,497.0 L1484.6,496.9 L1485.0,496.8 L1485.4,496.7 L1485.8,496.6 L1486.1,496.5 L1486.5,496.4 L1486.8,496.3 L1487.2,496.2 L1487.5,496.0 L1487.9,495.9 L1488.2,495.8 L1488.5,495.7 L1488.9,495.5 L1489.2,495.4 L1489.5,495.3 L1489.8,495.1 L1490.2,495.0 L1490.5,494.8 L1490.8,494.7 L1491.1,494.5 L1491.4,494.4 L1491.7,494.2 L1492.0,494.1 L1492.3,493.9 L1492.5,493.7 L1492.8,493.6 L1493.1,493.4 L1493.4,493.2 L1493.6,493.1 L1493.9,492.9 L1494.2,492.7 L1494.4,492.5 L1494.7,492.3 L1494.9,492.2 L1495.2,492.0 L1495.4,491.8 L1495.6,491.6 L1495.9,491.4 L1496.1,491.2 L1496.3,491.0 L1496.5,490.8 L1496.7,490.6 L1496.9,490.4 L1497.1,490.2 L1497.3,490.0 L1497.5,489.8 L1497.7,489.6 L1497.9,489.4 L1498.1,489.2 L1498.3,489.0 L1498.4,488.8 L1498.6,488.6 L1498.7,488.4 L1498.9,488.2 L1499.0,488.0 L1499.2,487.8 L1499.3,487.6 L1499.4,487.4 L1499.6,487.2 L1499.7,487.1 L1499.8,486.9 L1499.9,486.7 L1500.0,486.6 L1500.1,486.4 L1500.2,486.3 L1500.3,486.2 L1500.3,486.0 L1500.4,485.9 L1500.5,485.8 L1500.5,485.8 L1500.5,485.7 L1500.6,485.6 L1500.6,485.6 L1500.6,485.6 L1500.6,485.6 L1500.7,485.5 L1500.7,485.4 L1500.7,485.3 L1500.8,485.2 L1500.9,485.1 L1500.9,485.0 L1501.0,484.9 L1501.1,484.7 L1501.2,484.5 L1501.3,484.3 L1501.4,484.1 L1501.5,483.9 L1501.6,483.7 L1501.8,483.4 L1501.9,483.2 L1502.0,482.9 L1502.2,482.6 L1502.3,482.3 L1502.5,482.0 L1502.6,481.7 L1502.8,481.4 L1502.9,481.0 L1503.1,480.7 L1503.3,480.3 L1503.5,479.9 L1503.7,479.6 L1503.9,479.2 L1504.1,478.8 L1504.3,478.3 L1504.5,477.9 L1504.7,477.5 L1504.9,477.0 L1505.1,476.6 L1505.3,476.1 L1505.6,475.6 L1505.8,475.2 L1506.0,474.7 L1506.3,474.1 L1506.5,473.6 L1506.8,473.1 L1507.0,472.5 L1507.3,472.0 L1507.6,471.4 L1507.8,470.8 L1508.1,470.2 L1508.4,469.6 L1508.7,469.0 L1508.9,468.3 L1509.2,467.6 L1509.5,467.0 L1509.8,466.3 L1510.1,465.5 L1510.4,464.8 L1510.7,464.0 L1511.0,463.3 L1511.4,462.5 L1511.7,461.7 L1512.0,460.9 L1512.3,460.0 L1512.7,459.2 L1513.0,458.3 L1513.3,457.4 L1513.7,456.5 L1514.0,455.6 L1514.4,454.6 L1514.7,453.7 L1515.1,452.7 L1515.4,451.7 L1515.8,450.7 L1516.2,449.7 L1516.6,448.6 L1516.9,447.6 L1517.3,446.5 L1517.7,445.4 L1518.1,444.3 L1518.5,443.1 L1518.9,442.0 L1519.3,440.8 L1519.7,439.6 L1520.1,438.5 L1520.5,437.2 L1520.9,436.0 L1521.3,434.8 L1521.7,433.5 L1522.1,432.3 L1522.6,431.0 L1523.0,429.7 L1523.4,428.5 L1523.9,427.2 L1524.3,426.0 L1524.7,424.7 L1525.2,423.5 L1525.6,422.3 L1526.1,421.2 L1526.5,420.0 L1527.0,418.9 L1527.5,417.8 L1527.9,416.7 L1528.4,415.7 L1528.9,414.6 L1529.3,413.6 L1529.8,412.6 L1530.3,411.5 L1530.8,410.6 L1531.3,409.6 L1531.8,408.6 L1532.3,407.7 L1532.8,406.8 L1533.3,405.9 L1533.8,405.0 L1534.3,404.2 L1534.8,403.4 L1535.3,402.6 L1535.8,401.9 L1536.3,401.1 L1536.8,400.5 L1537.4,399.8 L1537.9,399.2 L1538.4,398.6 L1539.0,398.0 L1539.5,397.4 L1540.0,396.9 L1540.6,396.4 L1541.1,395.9 L1541.7,395.5 L1542.2,395.0 L1542.8,394.6 L1543.4,394.2 L1543.9,393.8 L1544.5,393.5 L1545.1,393.2 L1545.6,392.8 L1546.2,392.5 L1546.8,392.3 L1547.4,392.0 L1548.0,391.7 L1548.5,391.5 L1549.1,391.2 L1549.7,391.0 L1550.3,390.8 L1550.9,390.6 L1551.5,390.4 L1552.1,390.2 L1552.7,390.0 L1553.3,389.8 L1554.0,389.7 L1554.6,389.5 L1555.2,389.3 L1555.8,389.1 L1556.4,389.0 L1557.1,388.8 L1557.7,388.6 L1558.3,388.5 L1559.0,388.3 L1559.6,388.2 L1560.2,388.0 L1560.9,387.8 L1561.5,387.7 L1562.2,387.5 L1562.8,387.4 L1563.5,387.2 L1564.2,387.1 L1564.8,386.9 L1565.5,386.8 L1566.2,386.6 L1566.8,386.5 L1567.5,386.4 L1568.2,386.2 L1568.9,386.1 L1569.5,385.9 L1570.2,385.8 L1570.9,385.7 L1571.6,385.5 L1572.3,385.4 L1573.0,385.3 L1573.7,385.1 L1574.4,385.0 L1575.1,384.9 L1575.8,384.8 L1576.5,384.6 L1577.2,384.5 L1577.9,384.4 L1578.7,384.3 L1579.4,384.1 L1580.1,384.0 L1580.8,383.9 L1581.6,383.8 L1582.3,383.6 L1583.0,383.5 L1583.8,383.4 L1584.5,383.3 L1585.2,383.2 L1586.0,383.0 L1586.7,382.9 L1587.5,382.8 L1588.2,382.7 L1589.0,382.6 L1589.7,382.5 L1590.5,382.4 L1591.3,382.2 L1592.0,382.1 L1592.8,382.0 L1593.6,381.9 L1594.4,381.8 L1595.1,381.7 L1595.9,381.6 L1596.7,381.5 L1597.5,381.3 L1598.3,381.2 L1599.1,381.1 L1599.8,381.0 L1600.6,380.9 L1601.4,380.8 L1602.2,380.7 L1603.0,380.6 L1603.9,380.5 L1604.7,380.4 L1605.5,380.3 L1606.3,380.2 L1607.1,380.1 L1607.9,380.0 L1608.7,379.9 L1609.6,379.8 L1610.4,379.7 L1611.2,379.6 L1612.1,379.5 L1612.9,379.4 L1613.7,379.3 L1614.6,379.2 L1615.4,379.1 L1616.2,379.0 L1617.1,378.9 L1617.9,378.8 L1618.8,378.7 L1619.6,378.6 L1620.5,378.5 L1621.4,378.4" stroke="#0000ff"/>
<path d="M1379.8,485.3 L1380.7,485.1 L1381.6,484.9 L1382.4,484.7 L1383.3,484.6 L1384.1,484.4 L1385.0,484.2 L1385.8,484.0 L1386.6,483.8 L1387.5,483.7 L1388.3,483.5 L1389.1,483.3 L1390.0,483.1 L1390.8,482.9 L1391.6,482.7 L1392.5,482.5 L1393.3,482.3 L1394.1,482.1 L1394.9,481.9 L1395.7,481.7 L1396.5,481.5 L1397.3,481.3 L1398.2,481.1 L1399.0,480.9 L1399.8,480.7 L1400.6,480.5 L1401.4,480.3 L1402.1,480.1 L1402.9,479.8 L1403.7,479.6 L1404.5,479.4 L1405.3,479.2 L1406.1,479.0 L1406.8,478.7 L1407.6,478.5 L1408.4,478.3 L1409.2,478.0 L1409.9,477.8 L1410.7,477.6 L1411.5,477.3 L1412.2,477.1 L1413.0,476.8 L1413.7,476.6 L1414.5,476.3 L1415.2,476.1 L1416.0,475.8 L1416.7,475.6 L1417.4,475.3 L1418.2,475.1 L1418.9,474.8 L1419.6,474.6 L1420.4,474.3 L1421.1,474.0 L1421.8,473.8 L1422.5,473.5 L1423.3,473.2 L1424.0,472.9 L1424.7,472.7 L1425.4,472.4 L1426.1,472.1 L1426.8,471.8 L1427.5,471.5 L1428.2,471.2 L1428.9,471.0 L1429.6,470.7 L1430.3,470.4 L1431.0,470.1 L1431.7,469.8 L1432.3,469.5 L1433.0,469.2 L1433.7,468.8 L1434.4,468.5 L1435.0,468.2 L1435.7,467.9 L1436.4,467.6 L1437.0,467.3 L1437.7,466.9 L1438.4,466.6 L1439.0,466.3 L1439.7,466.0 L1440.3,465.6 L1441.0,465.3 L1441.6,465.0 L1442.2,464.6 L1442.9,464.3 L1443.5,463.9 L1444.1,463.6 L1444.8,463.2 L1445.4,462.9 L1446.0,462.5 L1446.6,462.2 L1447.2,461.8 L1447.9,461.4 L1448.5,461.1 L1449.1,460.7 L1449.7,460.3 L1450.3,460.0 L1450.9,459.6 L1451.5,459.2 L1452.1,458.8 L1452.7,458.4 L1453.2,458.1 L1453.8,457.7 L1454.4,457.3 L1455.0,456.9 L1455.6,456.5 L1456.1,456.1 L1456.7,455.7 L1457.3,455.3 L1457.8,454.9 L1458.4,454.5 L1459.0,454.1 L1459.5,453.7 L1460.1,453.2 L1460.6,452.8 L1461.2,452.4 L1461.7,452.0 L1462.2,451.6 L1462.8,451.2 L1463.3,450.7 L1463.8,450.3 L1464.4,449.9 L1464.9,449.5 L1465.4,449.0 L1465.9,448.6 L1466.4,448.2 L1466.9,447.8 L1467.4,447.3 L1467.9,446.9 L1468.4,446.5 L1468.9,446.0 L1469.4,445.6 L1469.9,445.2 L1470.4,444.8 L1470.9,444.3 L1471.4,443.9 L1471.9,443.5 L1472.3,443.0 L1472.8,442.6 L1473.3,442.2 L1473.7,441.8 L1474.2,441.3 L1474.7,440.9 L1475.1,440.5 L1475.6,440.1 L1476.0,439.7 L1476.5,439.2 L1476.9,438.8 L1477.3,438.4 L1477.8,438.0 L1478.2,437.6 L1478.6,437.2 L1479.1,436.8 L1479.5,436.4 L1479.9,436.0 L1480.3,435.6 L1480.7,435.2 L1481.1,434.8 L1481.5,434.4 L1481.9,434.0 L1482.3,433.6 L1482.7,433.3 L1483.1,432.9 L1483.5,432.5 L1483.9,432.1 L1484.3,431.8 L1484.6,431.4 L1485.0,431.0 L1485.4,430.7 L1485.8,430.3 L1486.1,430.0 L1486.5,429.6 L1486.8,429.3 L1487.2,429.0 L1487.5,428.6 L1487.9,428.3 L1488.2,428.0 L1488.5,427.6 L1488.9,427.3 L1489.2,427.0 L1489.5,426.7 L1489.8,426.4 L1490.2,426.1 L1490.5,425.8 L1490.8,425.5 L1491.1,425.2 L1491.4,424.9 L1491.7,424.6 L1492.0,424.4 L1492.3,424.1 L1492.5,423.8 L1492.8,423.6 L1493.1,423.3 L1493.4,423.1 L1493.6,422.8 L1493.9,422.6 L1494.2,422.3 L1494.4,422.1 L1494.7,421.9 L1494.9,421.6 L1495.2,421.4 L1495.4,421.2 L1495.6,421.0 L1495.9,420.8 L1496.1,420.6 L1496.3,420.4 L1496.5,420.2 L1496.7,420.0 L1496.9,419.8 L1497.1,419.6 L1497.3,419.5 L1497.5,419.3 L1497.7,419.1 L1497.9,419.0 L1498.1,418.8 L1498.3,418.7 L1498.4,418.5 L1498.6,418.4 L1498.7,418.2 L1498.9,418.1 L1499.0,418.0 L1499.2,417.9 L1499.3,417.7 L1499.4,417.6 L1499.6,417.5 L1499.7,417.4 L1499.8,417.3 L1499.9,417.2 L1500.0,417.2 L1500.1,417.1 L1500.2,417.0 L1500.3,416.9 L1500.3,416.9 L1500.4,416.8 L1500.5,416.8 L1500.5,416.7 L1500.5,416.7 L1500.6,416.7 L1500.6,416.7 L1500.6,416.6 L1500.6,416.6 L1500.7,416.6 L1500.7,416.6 L1500.7,416.5 L1500.8,416.5 L1500.9,416.4 L1500.9,416.4 L1501.0,416.3 L1501.1,416.2 L1501.2,416.2 L1501.3,416.1 L1501.4,416.0 L1501.5,415.9 L1501.6,415.8 L1501.8,415.7 L1501.9,415.6 L1502.0,415.5 L1502.2,415.4 L1502.3,415.2 L1502.5,415.1 L1502.6,415.0 L1502.8,414.9 L1502.9,414.7 L1503.1,414.6 L1503.3,414.5 L1503.5,414.3 L1503.7,414.2 L1503.9,414.0 L1504.1,413.9 L1504.3,413.7 L1504.5,413.5 L1504.7,413.4 L1504.9,413.2 L1505.1,413.1 L1505.3,412.9 L1505.6,412.7 L1505.8,412.5 L1506.0,412.4 L1506.3,412.2 L1506.5,412.0 L1506.8,411.8 L1507.0,411.6 L1507.3,411.4 L1507.6,411.2 L1507.8,411.0 L1508.1,410.9 L1508.4,410.7 L1508.7,410.5 L1508.9,410.3 L1509.2,410.1 L1509.5,409.9 L1509.8,409.6 L1510.1,409.4 L1510.4,409.2 L1510.7,409.0 L1511.0,408.8 L1511.4,408.6 L1511.7,408.4 L1512.0,408.2 L1512.3,408.0 L1512.7,407.7 L1513.0,407.5 L1513.3,407.3 L1513.7,407.1 L1514.0,406.9 L1514.4,406.6 L1514.7,406.4 L1515.1,406.2 L1515.4,406.0 L1515.8,405.7 L1516.2,405.5 L1516.6,405.3 L1516.9,405.1 L1517.3,404.8 L1517.7,404.6 L1518.1,404.4 L1518.5,404.1 L1518.9,403.9 L1519.3,403.7 L1519.7,403.5 L1520.1,403.2 L1520.5,403.0 L1520.9,402.8 L1521.3,402.5 L1521.7,402.3 L1522.1,402.1 L1522.6,401.8 L1523.0,401.6 L1523.4,401.4 L1523.9,401.1 L1524.3,400.9 L1524.7,400.7 L1525.2,400.4 L1525.6,400.2 L1526.1,400.0 L1526.5,399.7 L1527.0,399.5 L1527.5,399.3 L1527.9,399.0 L1528.4,398.8 L1528.9,398.6 L1529.3,398.3 L1529.8,398.1 L1530.3,397.9 L1530.8,397.6 L1531.3,397.4 L1531.8,397.2 L1532.3,396.9 L1532.8,396.7 L1533.3,396.5 L1533.8,396.3 L1534.3,396.0 L1534.8,395.8 L1535.3,395.6 L1535.8,395.4 L1536.3,395.1 L1536.8,394.9 L1537.4,394.7 L1537.9,394.5 L1538.4,394.2 L1539.0,394.0 L1539.5,393.8 L1540.0,393.6 L1540.6,393.4 L1541.1,393.1 L1541.7,392.9 L1542.2,392.7 L1542.8,392.5 L1543.4,392.3 L1543.9,392.1 L1544.5,391.8 L1545.1,391.6 L1545.6,391.4 L1546.2,391.2 L1546.8,391.0 L1547.4,390.8 L1548.0,390.6 L1548.5,390.4 L1549.1,390.2 L1549.7,389.9 L1550.3,389.7 L1550.9,389.5 L1551.5,389.3 L1552.1,389.1 L1552.7,388.9 L1553.3,388.7 L1554.0,388.5 L1554.6,388.3 L1555.2,388.1 L1555.8,387.9 L1556.4,387.7 L1557.1,387.5 L1557.7,387.3 L1558.3,387.1 L1559.0,386.9 L1559.6,386.7 L1560.2,386.5 L1560.9,386.3 L1561.5,386.1 L1562.2,386.0 L1562.8,385.8 L1563.5,385.6 L1564.2,385.4 L1564.8,385.2 L1565.5,385.0 L1566.2,384.8 L1566.8,384.6 L1567.5,384.4 L1568.2,384.3 L1568.9,384.1 L1569.5,383.9 L1570.2,383.7 L1570.9,383.5 L1571.6,383.3 L1572.3,383.2 L1573.0,383.0 L1573.7,382.8 L1574.4,382.6 L1575.1,382.4 L1575.8,382.3 L1576.5,382.1 L1577.2,381.9 L1577.9,381.7 L1578.7,381.6 L1579.4,381.4 L1580.1,381.2 L1580.8,381.0 L1581.6,380.9 L1582.3,380.7 L1583.0,380.5 L1583.8,380.4 L1584.5,380.2 L1585.2,380.0 L1586.0,379.9 L1586.7,379.7 L1587.5,379.5 L1588.2,379.4 L1589.0,379.2 L1589.7,379.0 L1590.5,378.9 L1591.3,378.7 L1592.0,378.6 L1592.8,378.4 L1593.6,378.3 L1594.4,378.1 L1595.1,378.0 L1595.9,377.8 L1596.7,377.7 L1597.5,377.5 L1598.3,377.4 L1599.1,377.2 L1599.8,377.1 L1600.6,376.9 L1601.4,376.8 L1602.2,376.6 L1603.0,376.5 L1603.9,376.3 L1604.7,376.2 L1605.5,376.1 L1606.3,375.9 L1607.1,375.8 L1607.9,375.6 L1608.7,375.5 L1609.6,375.4 L1610.4,375.2 L1611.2,375.1 L1612.1,375.0 L1612.9,374.8 L1613.7,374.7 L1614.6,374.6 L1615.4,374.5 L1616.2,374.3 L1617.1,374.2 L1617.9,374.1 L1618.8,374.0 L1619.6,373.8 L1620.5,373.7 L1621.4,373.6" stroke="#ff0000"/>
<path d="M1379.8,496.5 L1380.7,496.4 L1381.6,496.3 L1382.4,496.2 L1383.3,496.1 L1384.1,496.0 L1385.0,495.9 L1385.8,495.8 L1386.6,495.6 L1387.5,495.5 L1388.3,495.4 L1389.1,495.3 L1390.0,495.2 L1390.8,495.1 L1391.6,494.9 L1392.5,494.8 L1393.3,494.7 L1394.1,494.6 L1394.9,494.5 L1395.7,494.3 L1396.5,494.2 L1397.3,494.1 L1398.2,494.0 L1399.0,493.8 L1399.8,493.7 L1400.6,493.6 L1401.4,493.5 L1402.1,493.3 L1402.9,493.2 L1403.7,493.1 L1404.5,493.0 L1405.3,492.8 L1406.1,492.7 L1406.8,492.6 L1407.6,492.4 L1408.4,492.3 L1409.2,492.2 L1409.9,492.0 L1410.7,491.9 L1411.5,491.7 L1412.2,491.6 L1413.0,491.5 L1413.7,491.3 L1414.5,491.2 L1415.2,491.0 L1416.0,490.9 L1416.7,490.8 L1417.4,490.6 L1418.2,490.5 L1418.9,490.3 L1419.6,490.2 L1420.4,490.0 L1421.1,489.9 L1421.8,489.7 L1422.5,489.6 L1423.3,489.4 L1424.0,489.3 L1424.7,489.1 L1425.4,489.0 L1426.1,488.8 L1426.8,488.7 L1427.5,488.5 L1428.2,488.3 L1428.9,488.2 L1429.6,488.0 L1430.3,487.9 L1431.0,487.7 L1431.7,487.5 L1432.3,487.4 L1433.0,487.2 L1433.7,487.0 L1434.4,486.9 L1435.0,486.7 L1435.7,486.5 L1436.4,486.4 L1437.0,486.2 L1437.7,486.0 L1438.4,485.8 L1439.0,485.7 L1439.7,485.5 L1440.3,485.3 L1441.0,485.1 L1441.6,485.0 L1442.2,484.8 L1442.9,484.6 L1443.5,484.4 L1444.1,484.2 L1444.8,484.0 L1445.4,483.9 L1446.0,483.7 L1446.6,483.5 L1447.2,483.3 L1447.9,483.1 L1448.5,482.9 L1449.1,482.7 L1449.7,482.5 L1450.3,482.3 L1450.9,482.1 L1451.5,481.9 L1452.1,481.7 L1452.7,481.5 L1453.2,481.3 L1453.8,481.1 L1454.4,480.9 L1455.0,480.7 L1455.6,480.5 L1456.1,480.3 L1456.7,480.1 L1457.3,479.9 L1457.8,479.6 L1458.4,479.4 L1459.0,479.2 L1459.5,479.0 L1460.1,478.8 L1460.6,478.6 L1461.2,478.3 L1461.7,478.1 L1462.2,477.9 L1462.8,477.7 L1463.3,477.4 L1463.8,477.2 L1464.4,477.0 L1464.9,476.8 L1465.4,476.5 L1465.9,476.3 L1466.4,476.1 L1466.9,475.8 L1467.4,475.6 L1467.9,475.4 L1468.4,475.1 L1468.9,474.9 L1469.4,474.6 L1469.9,474.4 L1470.4,474.2 L1470.9,473.9 L1471.4,473.7 L1471.9,473.4 L1472.3,473.2 L1472.8,472.9 L1473.3,472.7 L1473.7,472.4 L1474.2,472.2 L1474.7,472.0 L1475.1,471.7 L1475.6,471.5 L1476.0,471.2 L1476.5,471.0 L1476.9,470.7 L1477.3,470.5 L1477.8,470.2 L1478.2,469.9 L1478.6,469.7 L1479.1,469.4 L1479.5,469.2 L1479.9,468.9 L1480.3,468.7 L1480.7,468.4 L1481.1,468.2 L1481.5,467.9 L1481.9,467.7 L1482.3,467.4 L1482.7,467.2 L1483.1,466.9 L1483.5,466.7 L1483.9,466.4 L1484.3,466.1 L1484.6,465.9 L1485.0,465.6 L1485.4,465.4 L1485.8,465.1 L1486.1,464.9 L1486.5,464.6 L1486.8,464.4 L1487.2,464.2 L1487.5,463.9 L1487.9,463.7 L1488.2,463.4 L1488.5,463.2 L1488.9,462.9 L1489.2,462.7 L1489.5,462.5 L1489.8,462.2 L1490.2,462.0 L1490.5,461.7 L1490.8,461.5 L1491.1,461.3 L1491.4,461.1 L1491.7,460.8 L1492.0,460.6 L1492.3,460.4 L1492.5,460.2 L1492.8,459.9 L1493.1,459.7 L1493.4,459.5 L1493.6,459.3 L1493.9,459.1 L1494.2,458.9 L1494.4,458.7 L1494.7,458.5 L1494.9,458.3 L1495.2,458.1 L1495.4,457.9 L1495.6,457.7 L1495.9,457.5 L1496.1,457.3 L1496.3,457.1 L1496.5,457.0 L1496.7,456.8 L1496.9,456.6 L1497.1,456.4 L1497.3,456.3 L1497.5,456.1 L1497.7,456.0 L1497.9,455.8 L1498.1,455.7 L1498.3,455.5 L1498.4,455.4 L1498.6,455.2 L1498.7,455.1 L1498.9,455.0 L1499.0,454.8 L1499.2,454.7 L1499.3,454.6 L1499.4,454.5 L1499.6,454.4 L1499.7,454.3 L1499.8,454.2 L1499.9,454.1 L1500.0,454.0 L1500.1,453.9 L1500.2,453.8 L1500.3,453.8 L1500.3,453.7 L1500.4,453.6 L1500.5,453.6 L1500.5,453.6 L1500.5,453.5 L1500.6,453.5 L1500.6,453.5 L1500.6,453.5 L1500.6,453.5 L1500.7,453.4 L1500.7,453.4 L1500.7,453.3 L1500.8,453.3 L1500.9,453.2 L1500.9,453.2 L1501.0,453.1 L1501.1,453.0 L1501.2,452.9 L1501.3,452.9 L1501.4,452.8 L1501.5,452.7 L1501.6,452.6 L1501.8,452.4 L1501.9,452.3 L1502.0,452.2 L1502.2,452.1 L1502.3,452.0 L1502.5,451.8 L1502.6,451.7 L1502.8,451.5 L1502.9,451.4 L1503.1,451.2 L1503.3,451.1 L1503.5,450.9 L1503.7,450.7 L1503.9,450.6 L1504.1,450.4 L1504.3,450.2 L1504.5,450.0 L1504.7,449.8 L1504.9,449.6 L1505.1,449.4 L1505.3,449.2 L1505.6,449.0 L1505.8,448.8 L1506.0,448.6 L1506.3,448.3 L1506.5,448.1 L1506.8,447.9 L1507.0,447.6 L1507.3,447.4 L1507.6,447.1 L1507.8,446.9 L1508.1,446.6 L1508.4,446.4 L1508.7,446.1 L1508.9,445.8 L1509.2,445.6 L1509.5,445.3 L1509.8,445.0 L1510.1,444.7 L1510.4,444.4 L1510.7,444.1 L1511.0,443.8 L1511.4,443.5 L1511.7,443.2 L1512.0,442.9 L1512.3,442.6 L1512.7,442.3 L1513.0,442.0 L1513.3,441.6 L1513.7,441.3 L1514.0,441.0 L1514.4,440.6 L1514.7,440.3 L1515.1,439.9 L1515.4,439.6 L1515.8,439.2 L1516.2,438.9 L1516.6,438.5 L1516.9,438.1 L1517.3,437.8 L1517.7,437.4 L1518.1,437.0 L1518.5,436.7 L1518.9,436.3 L1519.3,435.9 L1519.7,435.5 L1520.1,435.1 L1520.5,434.8 L1520.9,434.4 L1521.3,434.0 L1521.7,433.6 L1522.1,433.2 L1522.6,432.8 L1523.0,432.4 L1523.4,432.0 L1523.9,431.6 L1524.3,431.2 L1524.7,430.8 L1525.2,430.3 L1525.6,429.9 L1526.1,429.5 L1526.5,429.1 L1527.0,428.7 L1527.5,428.3 L1527.9,427.9 L1528.4,427.4 L1528.9,427.0 L1529.3,426.6 L1529.8,426.2 L1530.3,425.8 L1530.8,425.4 L1531.3,424.9 L1531.8,424.5 L1532.3,424.1 L1532.8,423.7 L1533.3,423.3 L1533.8,422.8 L1534.3,422.4 L1534.8,422.0 L1535.3,421.6 L1535.8,421.2 L1536.3,420.8 L1536.8,420.3 L1537.4,419.9 L1537.9,419.5 L1538.4,419.1 L1539.0,418.7 L1539.5,418.3 L1540.0,417.9 L1540.6,417.5 L1541.1,417.1 L1541.7,416.7 L1542.2,416.3 L1542.8,415.9 L1543.4,415.5 L1543.9,415.1 L1544.5,414.7 L1545.1,414.3 L1545.6,413.9 L1546.2,413.5 L1546.8,413.1 L1547.4,412.7 L1548.0,412.3 L1548.5,411.9 L1549.1,411.6 L1549.7,411.2 L1550.3,410.8 L1550.9,410.4 L1551.5,410.1 L1552.1,409.7 L1552.7,409.3 L1553.3,409.0 L1554.0,408.6 L1554.6,408.2 L1555.2,407.9 L1555.8,407.5 L1556.4,407.2 L1557.1,406.8 L1557.7,406.5 L1558.3,406.1 L1559.0,405.8 L1559.6,405.5 L1560.2,405.1 L1560.9,404.8 L1561.5,404.4 L1562.2,404.1 L1562.8,403.8 L1563.5,403.5 L1564.2,403.1 L1564.8,402.8 L1565.5,402.5 L1566.2,402.2 L1566.8,401.9 L1567.5,401.5 L1568.2,401.2 L1568.9,400.9 L1569.5,400.6 L1570.2,400.3 L1570.9,400.0 L1571.6,399.7 L1572.3,399.4 L1573.0,399.1 L1573.7,398.8 L1574.4,398.5 L1575.1,398.3 L1575.8,398.0 L1576.5,397.7 L1577.2,397.4 L1577.9,397.1 L1578.7,396.9 L1579.4,396.6 L1580.1,396.3 L1580.8,396.0 L1581.6,395.8 L1582.3,395.5 L1583.0,395.2 L1583.8,395.0 L1584.5,394.7 L1585.2,394.5 L1586.0,394.2 L1586.7,393.9 L1587.5,393.7 L1588.2,393.4 L1589.0,393.2 L1589.7,393.0 L1590.5,392.7 L1591.3,392.5 L1592.0,392.2 L1592.8,392.0 L1593.6,391.8 L1594.4,391.5 L1595.1,391.3 L1595.9,391.1 L1596.7,390.8 L1597.5,390.6 L1598.3,390.4 L1599.1,390.2 L1599.8,389.9 L1600.6,389.7 L1601.4,389.5 L1602.2,389.3 L1603.0,389.1 L1603.9,388.9 L1604.7,388.7 L1605.5,388.5 L1606.3,388.2 L1607.1,388.0 L1607.9,387.8 L1608.7,387.6 L1609.6,387.4 L1610.4,387.2 L1611.2,387.0 L1612.1,386.9 L1612.9,386.7 L1613.7,386.5 L1614.6,386.3 L1615.4,386.1 L1616.2,385.9 L1617.1,385.7 L1617.9,385.5 L1618.8,385.4 L1619.6,385.2 L1620.5,385.0 L1621.4,384.8" stroke="#ff0000"/>
</g>
<rect x="1385.2" y="341" width="232.1" height="190.3" fill="none" stroke="#000" stroke-width="1.7"/>
<path d="M1404.1,341 v5.7 M1404.1,531.3 v-5.7 M1452.4,341 v3.2 M1452.4,531.3 v-3.2 M1500.6,341 v5.7 M1500.6,531.3 v-5.7 M1548.8,341 v3.2 M1548.8,531.3 v-3.2 M1597,341 v5.7 M1597,531.3 v-5.7 M1385.2,525.7 h3.2 M1617.3,525.7 h-3.2 M1385.2,495.8 h5.7 M1617.3,495.8 h-5.7 M1385.2,466 h3.2 M1617.3,466 h-3.2 M1385.2,436.2 h5.7 M1617.3,436.2 h-5.7 M1385.2,406.4 h3.2 M1617.3,406.4 h-3.2 M1385.2,376.6 h5.7 M1617.3,376.6 h-5.7 M1385.2,346.7 h3.2 M1617.3,346.7 h-3.2" stroke="#000" stroke-width="1.6" fill="none"/>
<g font-family='"Liberation Sans", sans-serif' font-size="21.2" fill="#111">
<text x="1404.1" y="554.8" text-anchor="middle">-5</text>
<text x="1500.6" y="554.8" text-anchor="middle">0</text>
<text x="1597" y="554.8" text-anchor="middle">5</text>
<text x="1379" y="383.4" text-anchor="end">0.5</text>
<text x="1379" y="443" text-anchor="end">0.0</text>
<text x="1379" y="502.6" text-anchor="end">-0.5</text>
</g>
</g>
<g id="panel-c">
<text x="1685.3" y="47.4" font-family='"Liberation Serif", serif' font-size="54.5" font-weight="bold" fill="#000">(c)</text>
<clipPath id="photo"><rect x="1748.2" y="143.6" width="188.5" height="215"/></clipPath>
<filter id="blurL" x="-10%" y="-10%" width="120%" height="120%"><feGaussianBlur stdDeviation="1.5"/></filter>
<filter id="blurS" x="-10%" y="-10%" width="120%" height="120%"><feGaussianBlur stdDeviation="0.9"/></filter>
<filter id="blurXS" x="-20%" y="-20%" width="140%" height="140%"><feGaussianBlur stdDeviation="0.6"/></filter>
<filter id="paper" x="0" y="0" width="100%" height="100%"><feTurbulence type="fractalNoise" baseFrequency="0.09" numOctaves="2" seed="7" result="n"/><feColorMatrix in="n" type="matrix" values="0 0 0 0 1  0 0 0 0 1  0 0 0 0 1  1.6 0 0 0 -0.55"/><feGaussianBlur stdDeviation="1.2"/></filter>
<g clip-path="url(#photo)">
<rect x="1748.2" y="143.6" width="188.5" height="215" fill="#d3e5ec"/>
<rect x="1748.2" y="143.6" width="188.5" height="215" fill="#fff" opacity="0.55" filter="url(#paper)"/>
<linearGradient id="gridink" gradientUnits="userSpaceOnUse" x1="0" y1="143" x2="0" y2="358"><stop offset="0" stop-color="#cba29a"/><stop offset="0.45" stop-color="#c79789"/><stop offset="1" stop-color="#c68a7c"/></linearGradient>
<path d="M1770.2,137.6 L1778.5,364.6 M1821.7,137.6 L1829.2,364.6 M1870.3,137.6 L1878.6,364.6 M1921.3,137.6 L1927.6,364.6 M1742.2,166.8 L1942.7,158.7 M1742.2,218.6 L1942.7,209.9 M1742.2,267.4 L1942.7,259.3" stroke="url(#gridink)" stroke-width="6.4" fill="none" filter="url(#blurL)"/>
<path d="M1742.2,317.2 L1942.7,310.4" stroke="#c67f6b" stroke-width="9.2" fill="none" filter="url(#blurL)"/>
<path d="M1818.2,361.5 L1942.7,356.8" stroke="#c68a7c" stroke-width="5.6" fill="none" filter="url(#blurL)"/>
<polygon points="1778.2,183.6 1910.2,183.4 1910.3,337.2 1771.4,338.4" fill="#0b0506" filter="url(#blurS)"/>
<path d="M1780,184.2 L1830,184.6 M1858,184 L1902,183.6" stroke="#dfe6e8" stroke-width="1.6" opacity="0.6" fill="none" filter="url(#blurS)"/>
<path d="M1904.6,280.2 l1.6,3 l3.6,-4.6" stroke="#f4f4f2" stroke-width="2.2" opacity="0.9" fill="none" filter="url(#blurS)"/>
<path d="M1876.5,328.8 l6,-5.4 M1888.5,319.6 l4.2,3.6" stroke="#cfc5b3" stroke-width="3" opacity="0.85" stroke-linecap="round" fill="none" filter="url(#blurS)"/>
<path d="M1850,329 q10,-6 20,-1 M1893,326 q6,-5 12,-1" stroke="#3a3230" stroke-width="3" stroke-linecap="round" fill="none" filter="url(#blurS)"/>
</g>
<path d="M1833,252 V122 h-10 L1837.5,95 L1852.5,122 h-10 V252 Z" fill="#ff0000"/>
<path d="M1842.6,242.7 H1962 v-10.5 L1991.3,247.4 L1962,262.5 v-10.5 H1842.6 Z" fill="#0000ff"/>
<text transform="translate(1883.7,89.6) scale(0.9,1)" text-anchor="middle" font-family='"Liberation Sans", sans-serif' font-weight="bold" font-size="69" fill="#ff0000">y</text>
<text transform="translate(1982.5,209.2) scale(0.9,1)" text-anchor="middle" font-family='"Liberation Sans", sans-serif' font-weight="bold" font-size="69" fill="#0000ff">x</text>
</g>
</svg>
</body>
</html>
